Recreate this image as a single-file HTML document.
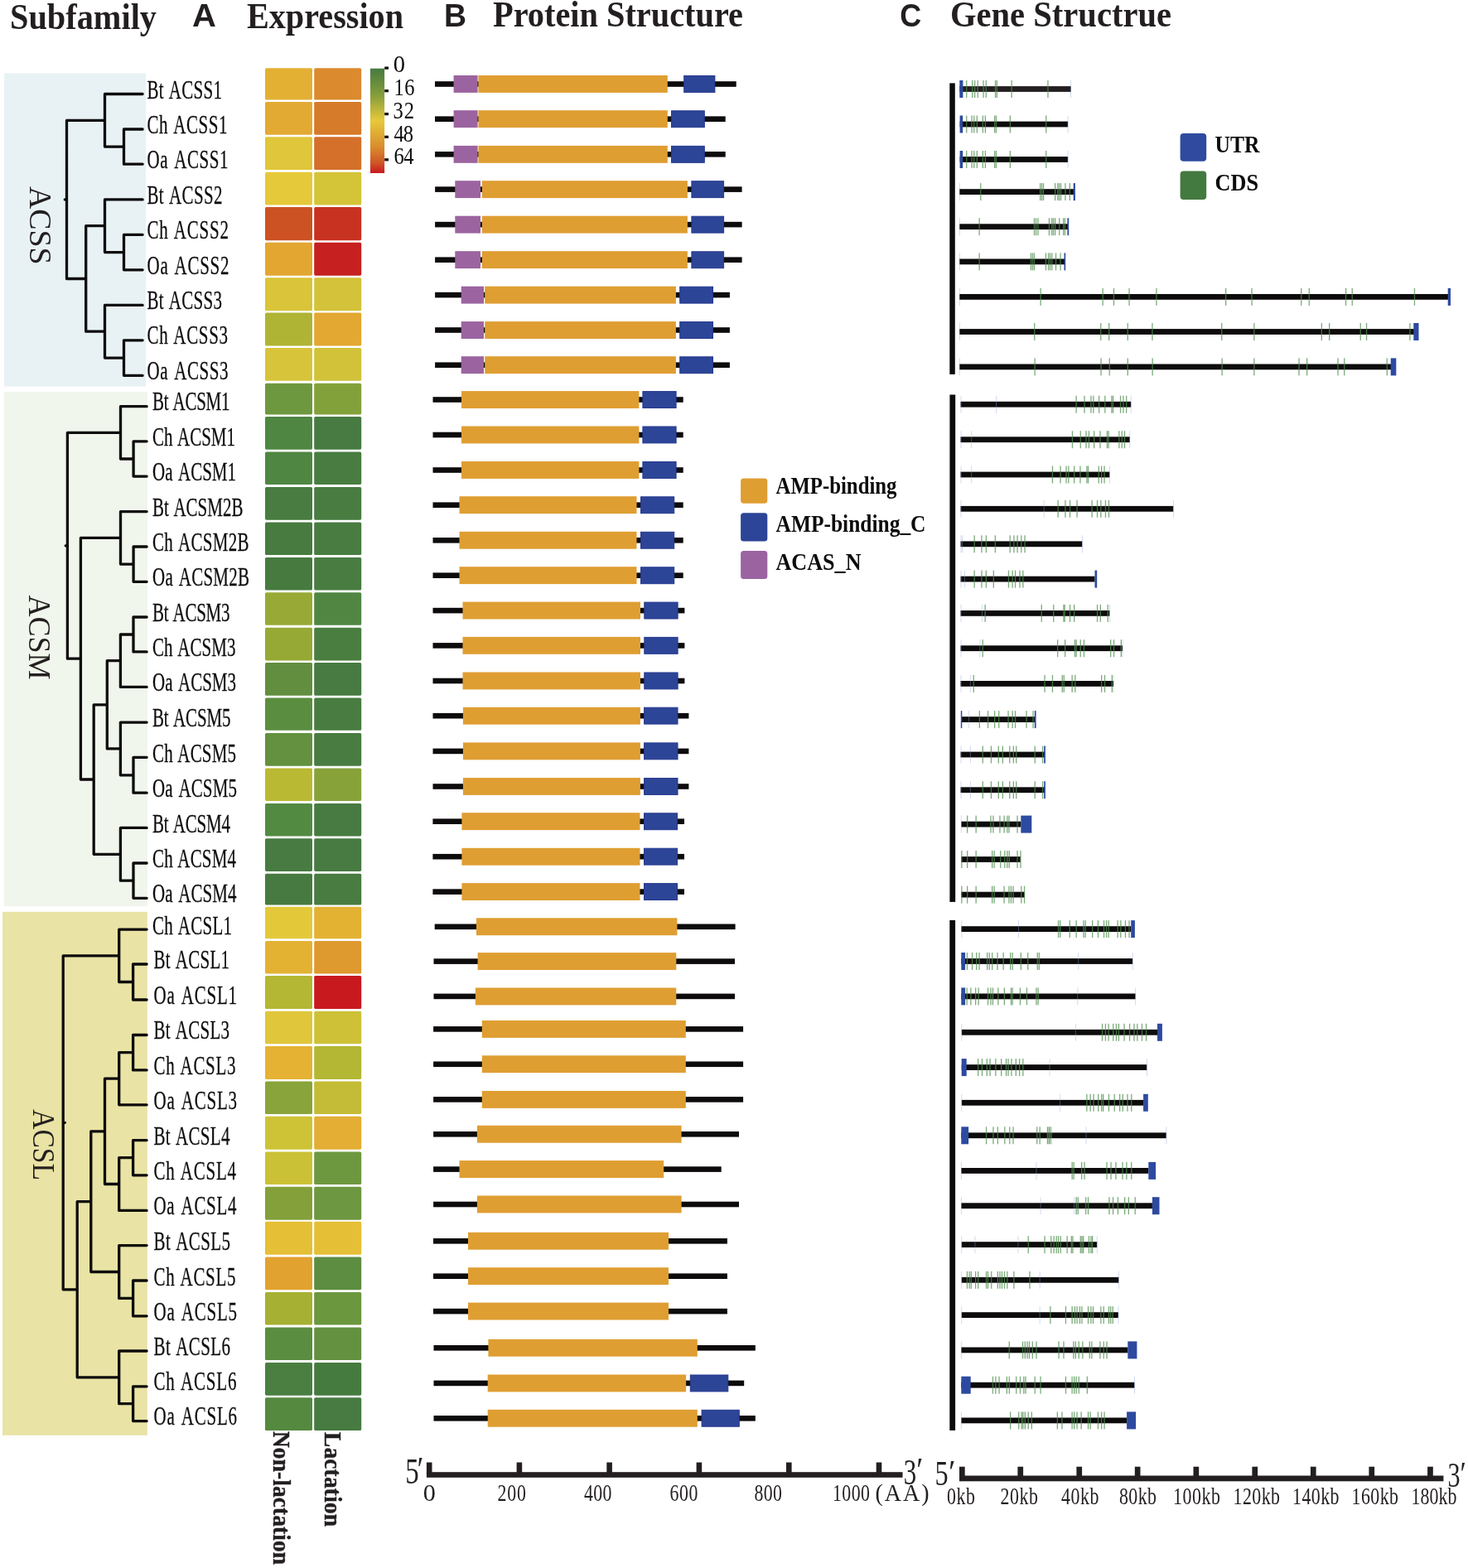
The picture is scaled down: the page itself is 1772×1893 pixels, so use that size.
<!DOCTYPE html>
<html><head><meta charset="utf-8"><title>ACS family: expression, protein and gene structure</title>
<style>html,body{margin:0;padding:0;background:#fff;overflow:hidden;}svg{display:block;}</style>
</head><body>
<svg width="1772" height="1893" viewBox="0 0 1772 1893">
<rect x="0" y="0" width="1772" height="1893" fill="#ffffff"/>
<rect x="4.9" y="88.4" width="171.1" height="378.2" fill="#e8f2f5"/>
<rect x="4.8" y="473.0" width="173.1" height="621.2" fill="#f1f6ec"/>
<rect x="3.0" y="1100.8" width="174.8" height="632.0" fill="#e9e3a5"/>
<path d="M126.5 113.5H172.1M149.5 156.0H172.1M149.5 198.2H172.1M149.5 156.0V198.2M126.5 177.1H149.5M126.5 113.5V177.1M80.5 145.3H126.5M126.5 240.9H172.1M149.5 283.3H172.1M149.5 325.8H172.1M149.5 283.3V325.8M126.5 304.6H149.5M126.5 240.9V304.6M103.7 272.7H126.5M126.5 368.4H172.1M149.5 410.8H172.1M149.5 453.3H172.1M149.5 410.8V453.3M126.5 432.1H149.5M126.5 368.4V432.1M103.7 400.2H126.5M103.7 272.7V400.2M80.5 336.5H103.7M80.5 145.3V336.5M78.3 240.9H80.5M145.5 490.7H177.1M161.1 532.8H177.1M161.1 575.1H177.1M161.1 532.8V575.1M145.5 554.0H161.1M145.5 490.7V554.0M81.4 522.3H145.5M145.5 617.6H177.1M161.1 660.0H177.1M161.1 702.3H177.1M161.1 660.0V702.3M145.5 681.1H161.1M145.5 617.6V681.1M97.4 649.4H145.5M161.0 745.0H177.1M161.0 786.9H177.1M161.0 745.0V786.9M145.4 766.0H161.0M145.4 829.4H177.1M145.4 766.0V829.4M129.3 797.7H145.4M145.4 872.1H177.1M161.0 914.3H177.1M161.0 957.2H177.1M161.0 914.3V957.2M145.4 935.8H161.0M145.4 872.1V935.8M129.3 903.9H145.4M129.3 797.7V903.9M113.2 850.8H129.3M145.4 999.4H177.1M161.0 1042.0H177.1M161.0 1084.3H177.1M161.0 1042.0V1084.3M145.4 1063.2H161.0M145.4 999.4V1063.2M113.2 1031.3H145.4M113.2 850.8V1031.3M97.4 941.0H113.2M97.4 649.4V941.0M81.4 795.2H97.4M81.4 522.3V795.2M79.2 658.8H81.4M143.7 1122.1H177.1M160.6 1164.0H177.1M160.6 1207.0H177.1M160.6 1164.0V1207.0M143.7 1185.5H160.6M143.7 1122.1V1185.5M76.2 1153.8H143.7M160.6 1249.5H177.1M160.6 1291.9H177.1M160.6 1249.5V1291.9M143.7 1270.7H160.6M143.7 1333.8H177.1M143.7 1270.7V1333.8M126.5 1302.2H143.7M160.6 1376.6H177.1M160.6 1418.8H177.1M160.6 1376.6V1418.8M143.7 1397.7H160.6M143.7 1461.4H177.1M143.7 1397.7V1461.4M126.5 1429.5H143.7M126.5 1302.2V1429.5M109.8 1365.9H126.5M143.7 1503.6H177.1M160.6 1546.0H177.1M160.6 1588.8H177.1M160.6 1546.0V1588.8M143.7 1567.4H160.6M143.7 1503.6V1567.4M109.8 1535.5H143.7M109.8 1365.9V1535.5M93.2 1450.7H109.8M143.7 1631.0H177.1M160.6 1673.8H177.1M160.6 1715.6H177.1M160.6 1673.8V1715.6M143.7 1694.7H160.6M143.7 1631.0V1694.7M93.2 1662.8H143.7M93.2 1450.7V1662.8M76.2 1556.8H93.2M76.2 1153.8V1556.8M76.2 1355.3H78.4" fill="none" stroke="#0d0b0b" stroke-width="3.3" stroke-linecap="round" stroke-linejoin="round"/>
<rect x="320.0" y="82.3" width="57.0" height="38.2" rx="1.6" fill="#e3b033"/>
<rect x="379.2" y="82.3" width="57.0" height="38.2" rx="1.6" fill="#db8a2e"/>
<rect x="320.0" y="123.0" width="57.0" height="39.8" rx="1.6" fill="#e3aa33"/>
<rect x="379.2" y="123.0" width="57.0" height="39.8" rx="1.6" fill="#d67b29"/>
<rect x="320.0" y="165.2" width="57.0" height="39.8" rx="1.6" fill="#dfc63a"/>
<rect x="379.2" y="165.2" width="57.0" height="39.8" rx="1.6" fill="#d4702a"/>
<rect x="320.0" y="207.7" width="57.0" height="39.8" rx="1.6" fill="#e6c93a"/>
<rect x="379.2" y="207.7" width="57.0" height="39.8" rx="1.6" fill="#d4c437"/>
<rect x="320.0" y="250.1" width="57.0" height="40.1" rx="1.6" fill="#cc5224"/>
<rect x="379.2" y="250.1" width="57.0" height="40.1" rx="1.6" fill="#c83220"/>
<rect x="320.0" y="292.8" width="57.0" height="39.9" rx="1.6" fill="#e2a631"/>
<rect x="379.2" y="292.8" width="57.0" height="39.9" rx="1.6" fill="#c62020"/>
<rect x="320.0" y="335.2" width="57.0" height="40.1" rx="1.6" fill="#d9c43a"/>
<rect x="379.2" y="335.2" width="57.0" height="40.1" rx="1.6" fill="#d4c23a"/>
<rect x="320.0" y="377.6" width="57.0" height="39.9" rx="1.6" fill="#b0b435"/>
<rect x="379.2" y="377.6" width="57.0" height="39.9" rx="1.6" fill="#e3a832"/>
<rect x="320.0" y="420.1" width="57.0" height="39.7" rx="1.6" fill="#d8c43a"/>
<rect x="379.2" y="420.1" width="57.0" height="39.7" rx="1.6" fill="#d1c23a"/>
<rect x="320.0" y="462.7" width="57.0" height="37.7" rx="1.6" fill="#6e983f"/>
<rect x="379.2" y="462.7" width="57.0" height="37.7" rx="1.6" fill="#83a13a"/>
<rect x="320.0" y="503.0" width="57.0" height="39.7" rx="1.6" fill="#4f8642"/>
<rect x="379.2" y="503.0" width="57.0" height="39.7" rx="1.6" fill="#477b41"/>
<rect x="320.0" y="545.4" width="57.0" height="39.5" rx="1.6" fill="#4f8642"/>
<rect x="379.2" y="545.4" width="57.0" height="39.5" rx="1.6" fill="#487c41"/>
<rect x="320.0" y="588.0" width="57.0" height="39.7" rx="1.6" fill="#487c40"/>
<rect x="379.2" y="588.0" width="57.0" height="39.7" rx="1.6" fill="#487c41"/>
<rect x="320.0" y="630.4" width="57.0" height="39.6" rx="1.6" fill="#477b3f"/>
<rect x="379.2" y="630.4" width="57.0" height="39.6" rx="1.6" fill="#487c41"/>
<rect x="320.0" y="673.0" width="57.0" height="39.5" rx="1.6" fill="#467a3e"/>
<rect x="379.2" y="673.0" width="57.0" height="39.5" rx="1.6" fill="#487c41"/>
<rect x="320.0" y="715.2" width="57.0" height="39.6" rx="1.6" fill="#98aa35"/>
<rect x="379.2" y="715.2" width="57.0" height="39.6" rx="1.6" fill="#508642"/>
<rect x="320.0" y="757.8" width="57.0" height="39.6" rx="1.6" fill="#97a935"/>
<rect x="379.2" y="757.8" width="57.0" height="39.6" rx="1.6" fill="#4a7e41"/>
<rect x="320.0" y="800.0" width="57.0" height="39.8" rx="1.6" fill="#628e3f"/>
<rect x="379.2" y="800.0" width="57.0" height="39.8" rx="1.6" fill="#477b41"/>
<rect x="320.0" y="842.6" width="57.0" height="39.2" rx="1.6" fill="#5b8d40"/>
<rect x="379.2" y="842.6" width="57.0" height="39.2" rx="1.6" fill="#487c41"/>
<rect x="320.0" y="884.9" width="57.0" height="39.8" rx="1.6" fill="#63913f"/>
<rect x="379.2" y="884.9" width="57.0" height="39.8" rx="1.6" fill="#487c41"/>
<rect x="320.0" y="927.5" width="57.0" height="39.4" rx="1.6" fill="#bab933"/>
<rect x="379.2" y="927.5" width="57.0" height="39.4" rx="1.6" fill="#88a23a"/>
<rect x="320.0" y="970.0" width="57.0" height="39.4" rx="1.6" fill="#538a42"/>
<rect x="379.2" y="970.0" width="57.0" height="39.4" rx="1.6" fill="#477b41"/>
<rect x="320.0" y="1012.2" width="57.0" height="39.7" rx="1.6" fill="#477b41"/>
<rect x="379.2" y="1012.2" width="57.0" height="39.7" rx="1.6" fill="#477b41"/>
<rect x="320.0" y="1054.7" width="57.0" height="37.9" rx="1.6" fill="#467a40"/>
<rect x="379.2" y="1054.7" width="57.0" height="37.9" rx="1.6" fill="#487c41"/>
<rect x="320.0" y="1094.8" width="57.0" height="38.5" rx="1.6" fill="#e3c93a"/>
<rect x="379.2" y="1094.8" width="57.0" height="38.5" rx="1.6" fill="#e3b233"/>
<rect x="320.0" y="1136.1" width="57.0" height="39.4" rx="1.6" fill="#e3b233"/>
<rect x="379.2" y="1136.1" width="57.0" height="39.4" rx="1.6" fill="#de9a2f"/>
<rect x="320.0" y="1178.0" width="57.0" height="40.0" rx="1.6" fill="#b3b733"/>
<rect x="379.2" y="1178.0" width="57.0" height="40.0" rx="1.6" fill="#c8191f"/>
<rect x="320.0" y="1220.7" width="57.0" height="39.6" rx="1.6" fill="#e0c63a"/>
<rect x="379.2" y="1220.7" width="57.0" height="39.6" rx="1.6" fill="#cec138"/>
<rect x="320.0" y="1263.0" width="57.0" height="39.9" rx="1.6" fill="#e5b233"/>
<rect x="379.2" y="1263.0" width="57.0" height="39.9" rx="1.6" fill="#b3b733"/>
<rect x="320.0" y="1305.6" width="57.0" height="39.5" rx="1.6" fill="#88a43a"/>
<rect x="379.2" y="1305.6" width="57.0" height="39.5" rx="1.6" fill="#c4bc36"/>
<rect x="320.0" y="1347.8" width="57.0" height="39.9" rx="1.6" fill="#cec336"/>
<rect x="379.2" y="1347.8" width="57.0" height="39.9" rx="1.6" fill="#e3ae33"/>
<rect x="320.0" y="1390.4" width="57.0" height="39.7" rx="1.6" fill="#cbc136"/>
<rect x="379.2" y="1390.4" width="57.0" height="39.7" rx="1.6" fill="#6e9840"/>
<rect x="320.0" y="1432.8" width="57.0" height="39.9" rx="1.6" fill="#83a03b"/>
<rect x="379.2" y="1432.8" width="57.0" height="39.9" rx="1.6" fill="#6d9740"/>
<rect x="320.0" y="1474.8" width="57.0" height="40.0" rx="1.6" fill="#e5bf35"/>
<rect x="379.2" y="1474.8" width="57.0" height="40.0" rx="1.6" fill="#e5bf35"/>
<rect x="320.0" y="1517.4" width="57.0" height="39.8" rx="1.6" fill="#e2a22f"/>
<rect x="379.2" y="1517.4" width="57.0" height="39.8" rx="1.6" fill="#5c8d40"/>
<rect x="320.0" y="1559.9" width="57.0" height="39.7" rx="1.6" fill="#a6b033"/>
<rect x="379.2" y="1559.9" width="57.0" height="39.7" rx="1.6" fill="#6b973f"/>
<rect x="320.0" y="1602.4" width="57.0" height="39.6" rx="1.6" fill="#5b8d40"/>
<rect x="379.2" y="1602.4" width="57.0" height="39.6" rx="1.6" fill="#639140"/>
<rect x="320.0" y="1645.0" width="57.0" height="39.7" rx="1.6" fill="#4a7f41"/>
<rect x="379.2" y="1645.0" width="57.0" height="39.7" rx="1.6" fill="#467b40"/>
<rect x="320.0" y="1687.2" width="57.0" height="39.9" rx="1.6" fill="#55893f"/>
<rect x="379.2" y="1687.2" width="57.0" height="39.9" rx="1.6" fill="#477b41"/>
<defs><linearGradient id="cg" x1="0" y1="0" x2="0" y2="1"><stop offset="0" stop-color="#457b40"/><stop offset="0.25" stop-color="#849c3c"/><stop offset="0.5" stop-color="#e6c93a"/><stop offset="0.75" stop-color="#d98c2e"/><stop offset="0.9" stop-color="#d05626"/><stop offset="1" stop-color="#c8191f"/></linearGradient></defs>
<rect x="446.9" y="82.7" width="17.2" height="126.3" fill="url(#cg)"/>
<rect x="464.2" y="80.5" width="4.8" height="3.2" fill="#0d0b0b"/>
<rect x="464.2" y="108.1" width="4.8" height="3.2" fill="#0d0b0b"/>
<rect x="464.2" y="136.0" width="4.8" height="3.2" fill="#0d0b0b"/>
<rect x="464.2" y="163.7" width="4.8" height="3.2" fill="#0d0b0b"/>
<rect x="464.2" y="191.2" width="4.8" height="3.2" fill="#0d0b0b"/>
<rect x="525.0" y="98.2" width="363.7" height="6.6" fill="#0d0b0b"/>
<rect x="547.6" y="91.0" width="29.0" height="20.9" fill="#9b64a0"/>
<rect x="577.4" y="91.0" width="228.4" height="20.9" fill="#df9e32"/>
<rect x="825.7" y="91.5" width="37.2" height="19.9" fill="#2d4596" stroke="#25388f" stroke-width="1"/>
<rect x="525.0" y="140.4" width="350.7" height="6.6" fill="#0d0b0b"/>
<rect x="547.6" y="133.2" width="29.0" height="20.9" fill="#9b64a0"/>
<rect x="577.4" y="133.2" width="228.4" height="20.9" fill="#df9e32"/>
<rect x="810.5" y="133.8" width="39.8" height="19.9" fill="#2d4596" stroke="#25388f" stroke-width="1"/>
<rect x="525.0" y="183.0" width="350.7" height="6.6" fill="#0d0b0b"/>
<rect x="547.6" y="175.9" width="29.0" height="20.9" fill="#9b64a0"/>
<rect x="577.4" y="175.9" width="228.4" height="20.9" fill="#df9e32"/>
<rect x="810.5" y="176.4" width="39.8" height="19.9" fill="#2d4596" stroke="#25388f" stroke-width="1"/>
<rect x="525.1" y="225.3" width="370.5" height="6.6" fill="#0d0b0b"/>
<rect x="549.3" y="218.2" width="30.7" height="20.9" fill="#9b64a0"/>
<rect x="581.9" y="218.2" width="248.0" height="20.9" fill="#df9e32"/>
<rect x="834.9" y="218.7" width="38.7" height="19.9" fill="#2d4596" stroke="#25388f" stroke-width="1"/>
<rect x="525.1" y="267.8" width="370.5" height="6.6" fill="#0d0b0b"/>
<rect x="549.3" y="260.7" width="30.7" height="20.9" fill="#9b64a0"/>
<rect x="581.9" y="260.7" width="248.0" height="20.9" fill="#df9e32"/>
<rect x="834.9" y="261.2" width="38.7" height="19.9" fill="#2d4596" stroke="#25388f" stroke-width="1"/>
<rect x="525.1" y="310.4" width="370.5" height="6.6" fill="#0d0b0b"/>
<rect x="549.3" y="303.2" width="30.7" height="20.9" fill="#9b64a0"/>
<rect x="581.9" y="303.2" width="248.0" height="20.9" fill="#df9e32"/>
<rect x="834.9" y="303.8" width="38.7" height="19.9" fill="#2d4596" stroke="#25388f" stroke-width="1"/>
<rect x="525.1" y="352.8" width="355.8" height="6.6" fill="#0d0b0b"/>
<rect x="556.7" y="345.7" width="27.3" height="20.9" fill="#9b64a0"/>
<rect x="585.2" y="345.7" width="230.7" height="20.9" fill="#df9e32"/>
<rect x="820.7" y="346.2" width="39.8" height="19.9" fill="#2d4596" stroke="#25388f" stroke-width="1"/>
<rect x="525.1" y="395.2" width="355.8" height="6.6" fill="#0d0b0b"/>
<rect x="556.7" y="388.1" width="27.3" height="20.9" fill="#9b64a0"/>
<rect x="585.2" y="388.1" width="230.7" height="20.9" fill="#df9e32"/>
<rect x="820.7" y="388.6" width="39.8" height="19.9" fill="#2d4596" stroke="#25388f" stroke-width="1"/>
<rect x="525.1" y="437.4" width="355.8" height="6.6" fill="#0d0b0b"/>
<rect x="556.7" y="430.2" width="27.3" height="20.9" fill="#9b64a0"/>
<rect x="585.2" y="430.2" width="230.7" height="20.9" fill="#df9e32"/>
<rect x="820.7" y="430.8" width="39.8" height="19.9" fill="#2d4596" stroke="#25388f" stroke-width="1"/>
<rect x="522.5" y="479.2" width="302.2" height="6.6" fill="#0d0b0b"/>
<rect x="557.0" y="472.1" width="214.4" height="20.9" fill="#df9e32"/>
<rect x="775.9" y="472.6" width="40.2" height="19.9" fill="#2d4596" stroke="#25388f" stroke-width="1"/>
<rect x="522.5" y="521.7" width="302.2" height="6.6" fill="#0d0b0b"/>
<rect x="557.0" y="514.5" width="214.4" height="20.9" fill="#df9e32"/>
<rect x="775.9" y="515.0" width="40.2" height="19.9" fill="#2d4596" stroke="#25388f" stroke-width="1"/>
<rect x="522.5" y="564.2" width="302.2" height="6.6" fill="#0d0b0b"/>
<rect x="557.0" y="557.0" width="214.4" height="20.9" fill="#df9e32"/>
<rect x="775.9" y="557.5" width="40.2" height="19.9" fill="#2d4596" stroke="#25388f" stroke-width="1"/>
<rect x="522.5" y="606.4" width="302.2" height="6.6" fill="#0d0b0b"/>
<rect x="554.5" y="599.2" width="214.0" height="20.9" fill="#df9e32"/>
<rect x="773.5" y="599.8" width="40.2" height="19.9" fill="#2d4596" stroke="#25388f" stroke-width="1"/>
<rect x="522.5" y="649.0" width="302.2" height="6.6" fill="#0d0b0b"/>
<rect x="554.5" y="641.8" width="214.0" height="20.9" fill="#df9e32"/>
<rect x="773.5" y="642.3" width="40.2" height="19.9" fill="#2d4596" stroke="#25388f" stroke-width="1"/>
<rect x="522.5" y="691.4" width="302.2" height="6.6" fill="#0d0b0b"/>
<rect x="554.5" y="684.2" width="214.0" height="20.9" fill="#df9e32"/>
<rect x="773.5" y="684.8" width="40.2" height="19.9" fill="#2d4596" stroke="#25388f" stroke-width="1"/>
<rect x="522.5" y="733.8" width="303.9" height="6.6" fill="#0d0b0b"/>
<rect x="558.5" y="726.6" width="214.5" height="20.9" fill="#df9e32"/>
<rect x="777.8" y="727.1" width="40.3" height="19.9" fill="#2d4596" stroke="#25388f" stroke-width="1"/>
<rect x="522.5" y="776.1" width="303.9" height="6.6" fill="#0d0b0b"/>
<rect x="558.5" y="768.9" width="214.5" height="20.9" fill="#df9e32"/>
<rect x="777.8" y="769.4" width="40.3" height="19.9" fill="#2d4596" stroke="#25388f" stroke-width="1"/>
<rect x="522.5" y="818.7" width="303.9" height="6.6" fill="#0d0b0b"/>
<rect x="558.5" y="811.5" width="214.5" height="20.9" fill="#df9e32"/>
<rect x="777.8" y="812.0" width="40.3" height="19.9" fill="#2d4596" stroke="#25388f" stroke-width="1"/>
<rect x="522.5" y="860.9" width="308.9" height="6.6" fill="#0d0b0b"/>
<rect x="558.9" y="853.8" width="214.0" height="20.9" fill="#df9e32"/>
<rect x="777.6" y="854.2" width="40.4" height="19.9" fill="#2d4596" stroke="#25388f" stroke-width="1"/>
<rect x="522.5" y="903.6" width="308.9" height="6.6" fill="#0d0b0b"/>
<rect x="558.9" y="896.4" width="214.0" height="20.9" fill="#df9e32"/>
<rect x="777.6" y="896.9" width="40.4" height="19.9" fill="#2d4596" stroke="#25388f" stroke-width="1"/>
<rect x="522.5" y="946.2" width="308.9" height="6.6" fill="#0d0b0b"/>
<rect x="558.9" y="939.0" width="214.0" height="20.9" fill="#df9e32"/>
<rect x="777.6" y="939.5" width="40.4" height="19.9" fill="#2d4596" stroke="#25388f" stroke-width="1"/>
<rect x="522.4" y="988.4" width="303.6" height="6.6" fill="#0d0b0b"/>
<rect x="557.4" y="981.2" width="215.1" height="20.9" fill="#df9e32"/>
<rect x="777.5" y="981.8" width="40.1" height="19.9" fill="#2d4596" stroke="#25388f" stroke-width="1"/>
<rect x="522.4" y="1030.9" width="303.6" height="6.6" fill="#0d0b0b"/>
<rect x="557.4" y="1023.8" width="215.1" height="20.9" fill="#df9e32"/>
<rect x="777.5" y="1024.2" width="40.1" height="19.9" fill="#2d4596" stroke="#25388f" stroke-width="1"/>
<rect x="522.4" y="1073.3" width="303.6" height="6.6" fill="#0d0b0b"/>
<rect x="557.4" y="1066.1" width="215.1" height="20.9" fill="#df9e32"/>
<rect x="777.5" y="1066.6" width="40.1" height="19.9" fill="#2d4596" stroke="#25388f" stroke-width="1"/>
<rect x="524.7" y="1115.5" width="362.9" height="6.6" fill="#0d0b0b"/>
<rect x="575.0" y="1108.3" width="242.4" height="20.9" fill="#df9e32"/>
<rect x="523.5" y="1157.3" width="363.5" height="6.6" fill="#0d0b0b"/>
<rect x="576.6" y="1150.1" width="239.7" height="20.9" fill="#df9e32"/>
<rect x="523.5" y="1199.6" width="363.5" height="6.6" fill="#0d0b0b"/>
<rect x="573.9" y="1192.5" width="242.4" height="20.9" fill="#df9e32"/>
<rect x="523.1" y="1239.1" width="374.0" height="6.6" fill="#0d0b0b"/>
<rect x="581.8" y="1232.0" width="246.0" height="20.9" fill="#df9e32"/>
<rect x="523.1" y="1281.5" width="374.0" height="6.6" fill="#0d0b0b"/>
<rect x="581.8" y="1274.3" width="246.0" height="20.9" fill="#df9e32"/>
<rect x="523.1" y="1324.1" width="374.0" height="6.6" fill="#0d0b0b"/>
<rect x="581.8" y="1317.0" width="246.0" height="20.9" fill="#df9e32"/>
<rect x="523.1" y="1366.0" width="368.9" height="6.6" fill="#0d0b0b"/>
<rect x="575.9" y="1358.8" width="246.7" height="20.9" fill="#df9e32"/>
<rect x="523.1" y="1408.3" width="347.6" height="6.6" fill="#0d0b0b"/>
<rect x="554.5" y="1401.1" width="246.7" height="20.9" fill="#df9e32"/>
<rect x="523.1" y="1450.7" width="368.9" height="6.6" fill="#0d0b0b"/>
<rect x="575.9" y="1443.5" width="246.7" height="20.9" fill="#df9e32"/>
<rect x="523.0" y="1495.0" width="354.9" height="6.6" fill="#0d0b0b"/>
<rect x="565.0" y="1487.8" width="242.0" height="20.9" fill="#df9e32"/>
<rect x="523.0" y="1537.4" width="354.9" height="6.6" fill="#0d0b0b"/>
<rect x="565.0" y="1530.2" width="242.0" height="20.9" fill="#df9e32"/>
<rect x="523.0" y="1579.8" width="354.9" height="6.6" fill="#0d0b0b"/>
<rect x="565.0" y="1572.6" width="242.0" height="20.9" fill="#df9e32"/>
<rect x="523.5" y="1624.0" width="388.3" height="6.6" fill="#0d0b0b"/>
<rect x="589.4" y="1616.8" width="252.4" height="20.9" fill="#df9e32"/>
<rect x="523.5" y="1666.6" width="374.7" height="6.6" fill="#0d0b0b"/>
<rect x="588.7" y="1659.5" width="239.4" height="20.9" fill="#df9e32"/>
<rect x="833.3" y="1660.0" width="45.5" height="19.9" fill="#2d4596" stroke="#25388f" stroke-width="1"/>
<rect x="523.5" y="1709.0" width="388.3" height="6.6" fill="#0d0b0b"/>
<rect x="588.7" y="1701.8" width="253.1" height="20.9" fill="#df9e32"/>
<rect x="847.1" y="1702.3" width="45.2" height="19.9" fill="#2d4596" stroke="#25388f" stroke-width="1"/>
<rect x="894.1" y="577.6" width="32.2" height="30.1" rx="3.5" fill="#df9e32"/>
<rect x="894.1" y="619.3" width="32.2" height="34.1" rx="3.5" fill="#2d4596"/>
<rect x="894.1" y="665.1" width="32.2" height="33.9" rx="3.5" fill="#9b64a0"/>
<rect x="514.9" y="1777.2" width="574.6" height="6.6" fill="#231f20"/>
<rect x="514.9" y="1765.5" width="6.6" height="14" fill="#231f20"/>
<rect x="623.6" y="1765.5" width="6.6" height="14" fill="#231f20"/>
<rect x="732.3" y="1765.5" width="6.6" height="14" fill="#231f20"/>
<rect x="840.6" y="1765.5" width="6.6" height="14" fill="#231f20"/>
<rect x="949.0" y="1765.5" width="6.6" height="14" fill="#231f20"/>
<rect x="1057.7" y="1765.5" width="6.6" height="14" fill="#231f20"/>
<rect x="1146.3" y="100.4" width="6.5" height="351.5" fill="#0d0b0b"/>
<rect x="1146.4" y="476.5" width="6.8" height="612.4" fill="#0d0b0b"/>
<rect x="1146.3" y="1110.9" width="6.8" height="616.0" fill="#0d0b0b"/>
<rect x="1158.3" y="104.1" width="134.5" height="6.8" fill="#231f20"/>
<rect x="1166.1" y="97.0" width="1.3" height="21.0" fill="#4f8f4f" opacity="0.75"/>
<rect x="1173.1" y="97.0" width="1.3" height="21.0" fill="#4f8f4f" opacity="0.75"/>
<rect x="1176.0" y="97.0" width="1.3" height="21.0" fill="#4f8f4f" opacity="0.75"/>
<rect x="1179.6" y="97.0" width="1.3" height="21.0" fill="#4f8f4f" opacity="0.75"/>
<rect x="1186.4" y="97.0" width="1.3" height="21.0" fill="#4f8f4f" opacity="0.75"/>
<rect x="1189.6" y="97.0" width="1.3" height="21.0" fill="#4f8f4f" opacity="0.75"/>
<rect x="1200.9" y="97.0" width="1.3" height="21.0" fill="#4f8f4f" opacity="0.75"/>
<rect x="1202.7" y="97.0" width="1.3" height="21.0" fill="#4f8f4f" opacity="0.75"/>
<rect x="1220.5" y="97.0" width="1.3" height="21.0" fill="#4f8f4f" opacity="0.75"/>
<rect x="1264.3" y="97.0" width="1.3" height="21.0" fill="#4f8f4f" opacity="0.75"/>
<rect x="1292.1" y="97.0" width="0.9" height="21.0" fill="#8fa3d6" opacity="0.45"/>
<rect x="1158.3" y="97.0" width="4.1" height="21.0" fill="#2d4aa0"/>
<rect x="1158.6" y="146.6" width="130.5" height="6.8" fill="#0d0b0b"/>
<rect x="1166.1" y="139.5" width="1.3" height="21.0" fill="#4f8f4f" opacity="0.75"/>
<rect x="1172.4" y="139.5" width="1.3" height="21.0" fill="#4f8f4f" opacity="0.75"/>
<rect x="1175.1" y="139.5" width="1.3" height="21.0" fill="#4f8f4f" opacity="0.75"/>
<rect x="1178.7" y="139.5" width="1.3" height="21.0" fill="#4f8f4f" opacity="0.75"/>
<rect x="1185.7" y="139.5" width="1.3" height="21.0" fill="#4f8f4f" opacity="0.75"/>
<rect x="1188.7" y="139.5" width="1.3" height="21.0" fill="#4f8f4f" opacity="0.75"/>
<rect x="1200.0" y="139.5" width="1.3" height="21.0" fill="#4f8f4f" opacity="0.75"/>
<rect x="1201.8" y="139.5" width="1.3" height="21.0" fill="#4f8f4f" opacity="0.75"/>
<rect x="1218.7" y="139.5" width="1.3" height="21.0" fill="#4f8f4f" opacity="0.75"/>
<rect x="1262.1" y="139.5" width="1.3" height="21.0" fill="#4f8f4f" opacity="0.75"/>
<rect x="1288.6" y="139.5" width="0.9" height="21.0" fill="#8fa3d6" opacity="0.45"/>
<rect x="1158.6" y="139.5" width="3.6" height="21.0" fill="#2d4aa0"/>
<rect x="1158.6" y="189.1" width="130.5" height="6.8" fill="#0d0b0b"/>
<rect x="1166.1" y="182.0" width="1.3" height="21.0" fill="#4f8f4f" opacity="0.75"/>
<rect x="1172.4" y="182.0" width="1.3" height="21.0" fill="#4f8f4f" opacity="0.75"/>
<rect x="1175.1" y="182.0" width="1.3" height="21.0" fill="#4f8f4f" opacity="0.75"/>
<rect x="1178.7" y="182.0" width="1.3" height="21.0" fill="#4f8f4f" opacity="0.75"/>
<rect x="1185.7" y="182.0" width="1.3" height="21.0" fill="#4f8f4f" opacity="0.75"/>
<rect x="1188.7" y="182.0" width="1.3" height="21.0" fill="#4f8f4f" opacity="0.75"/>
<rect x="1200.0" y="182.0" width="1.3" height="21.0" fill="#4f8f4f" opacity="0.75"/>
<rect x="1201.8" y="182.0" width="1.3" height="21.0" fill="#4f8f4f" opacity="0.75"/>
<rect x="1218.7" y="182.0" width="1.3" height="21.0" fill="#4f8f4f" opacity="0.75"/>
<rect x="1262.1" y="182.0" width="1.3" height="21.0" fill="#4f8f4f" opacity="0.75"/>
<rect x="1288.6" y="182.0" width="0.9" height="21.0" fill="#8fa3d6" opacity="0.45"/>
<rect x="1158.6" y="182.0" width="3.6" height="21.0" fill="#2d4aa0"/>
<rect x="1158.1" y="228.2" width="139.0" height="6.8" fill="#0d0b0b"/>
<rect x="1183.1" y="221.1" width="1.3" height="21.0" fill="#4f8f4f" opacity="0.75"/>
<rect x="1255.0" y="221.1" width="1.3" height="21.0" fill="#4f8f4f" opacity="0.75"/>
<rect x="1256.9" y="221.1" width="1.3" height="21.0" fill="#4f8f4f" opacity="0.75"/>
<rect x="1258.9" y="221.1" width="1.3" height="21.0" fill="#4f8f4f" opacity="0.75"/>
<rect x="1273.0" y="221.1" width="1.3" height="21.0" fill="#4f8f4f" opacity="0.75"/>
<rect x="1276.1" y="221.1" width="1.3" height="21.0" fill="#4f8f4f" opacity="0.75"/>
<rect x="1277.9" y="221.1" width="1.3" height="21.0" fill="#4f8f4f" opacity="0.75"/>
<rect x="1279.9" y="221.1" width="1.3" height="21.0" fill="#4f8f4f" opacity="0.75"/>
<rect x="1285.3" y="221.1" width="1.3" height="21.0" fill="#4f8f4f" opacity="0.75"/>
<rect x="1290.7" y="221.1" width="1.3" height="21.0" fill="#4f8f4f" opacity="0.75"/>
<rect x="1157.9" y="221.1" width="0.9" height="21.0" fill="#8fa3d6" opacity="0.45"/>
<rect x="1295.7" y="221.1" width="2.2" height="21.0" fill="#2d4aa0"/>
<rect x="1158.1" y="270.3" width="131.8" height="6.8" fill="#0d0b0b"/>
<rect x="1181.5" y="263.2" width="1.3" height="21.0" fill="#4f8f4f" opacity="0.75"/>
<rect x="1247.8" y="263.2" width="1.3" height="21.0" fill="#4f8f4f" opacity="0.75"/>
<rect x="1249.9" y="263.2" width="1.3" height="21.0" fill="#4f8f4f" opacity="0.75"/>
<rect x="1252.3" y="263.2" width="1.3" height="21.0" fill="#4f8f4f" opacity="0.75"/>
<rect x="1265.8" y="263.2" width="1.3" height="21.0" fill="#4f8f4f" opacity="0.75"/>
<rect x="1269.1" y="263.2" width="1.3" height="21.0" fill="#4f8f4f" opacity="0.75"/>
<rect x="1270.9" y="263.2" width="1.3" height="21.0" fill="#4f8f4f" opacity="0.75"/>
<rect x="1273.0" y="263.2" width="1.3" height="21.0" fill="#4f8f4f" opacity="0.75"/>
<rect x="1278.1" y="263.2" width="1.3" height="21.0" fill="#4f8f4f" opacity="0.75"/>
<rect x="1283.0" y="263.2" width="1.3" height="21.0" fill="#4f8f4f" opacity="0.75"/>
<rect x="1284.8" y="263.2" width="1.3" height="21.0" fill="#4f8f4f" opacity="0.75"/>
<rect x="1157.9" y="263.2" width="0.9" height="21.0" fill="#8fa3d6" opacity="0.45"/>
<rect x="1288.4" y="263.2" width="1.8" height="21.0" fill="#2d4aa0"/>
<rect x="1158.1" y="312.5" width="127.8" height="6.8" fill="#0d0b0b"/>
<rect x="1181.5" y="305.4" width="1.3" height="21.0" fill="#4f8f4f" opacity="0.75"/>
<rect x="1243.8" y="305.4" width="1.3" height="21.0" fill="#4f8f4f" opacity="0.75"/>
<rect x="1245.8" y="305.4" width="1.3" height="21.0" fill="#4f8f4f" opacity="0.75"/>
<rect x="1247.8" y="305.4" width="1.3" height="21.0" fill="#4f8f4f" opacity="0.75"/>
<rect x="1261.8" y="305.4" width="1.3" height="21.0" fill="#4f8f4f" opacity="0.75"/>
<rect x="1264.9" y="305.4" width="1.3" height="21.0" fill="#4f8f4f" opacity="0.75"/>
<rect x="1266.9" y="305.4" width="1.3" height="21.0" fill="#4f8f4f" opacity="0.75"/>
<rect x="1269.1" y="305.4" width="1.3" height="21.0" fill="#4f8f4f" opacity="0.75"/>
<rect x="1273.9" y="305.4" width="1.3" height="21.0" fill="#4f8f4f" opacity="0.75"/>
<rect x="1279.4" y="305.4" width="1.3" height="21.0" fill="#4f8f4f" opacity="0.75"/>
<rect x="1157.9" y="305.4" width="0.9" height="21.0" fill="#8fa3d6" opacity="0.45"/>
<rect x="1284.5" y="305.4" width="1.7" height="21.0" fill="#2d4aa0"/>
<rect x="1158.1" y="355.0" width="590.3" height="6.8" fill="#0d0b0b"/>
<rect x="1255.5" y="347.9" width="1.3" height="21.0" fill="#4f8f4f" opacity="0.75"/>
<rect x="1330.5" y="347.9" width="1.3" height="21.0" fill="#4f8f4f" opacity="0.75"/>
<rect x="1343.8" y="347.9" width="1.3" height="21.0" fill="#4f8f4f" opacity="0.75"/>
<rect x="1362.4" y="347.9" width="1.3" height="21.0" fill="#4f8f4f" opacity="0.75"/>
<rect x="1395.3" y="347.9" width="1.3" height="21.0" fill="#4f8f4f" opacity="0.75"/>
<rect x="1479.0" y="347.9" width="1.3" height="21.0" fill="#4f8f4f" opacity="0.75"/>
<rect x="1510.4" y="347.9" width="1.3" height="21.0" fill="#4f8f4f" opacity="0.75"/>
<rect x="1570.1" y="347.9" width="1.3" height="21.0" fill="#4f8f4f" opacity="0.75"/>
<rect x="1579.6" y="347.9" width="1.3" height="21.0" fill="#4f8f4f" opacity="0.75"/>
<rect x="1623.9" y="347.9" width="1.3" height="21.0" fill="#4f8f4f" opacity="0.75"/>
<rect x="1631.6" y="347.9" width="1.3" height="21.0" fill="#4f8f4f" opacity="0.75"/>
<rect x="1706.8" y="347.9" width="1.3" height="21.0" fill="#4f8f4f" opacity="0.75"/>
<rect x="1157.9" y="347.9" width="0.9" height="21.0" fill="#8fa3d6" opacity="0.45"/>
<rect x="1747.7" y="347.9" width="3.3" height="21.0" fill="#2d4aa0"/>
<rect x="1158.1" y="397.1" width="548.9" height="6.8" fill="#0d0b0b"/>
<rect x="1248.1" y="390.0" width="1.3" height="21.0" fill="#4f8f4f" opacity="0.75"/>
<rect x="1328.1" y="390.0" width="1.3" height="21.0" fill="#4f8f4f" opacity="0.75"/>
<rect x="1338.0" y="390.0" width="1.3" height="21.0" fill="#4f8f4f" opacity="0.75"/>
<rect x="1360.6" y="390.0" width="1.3" height="21.0" fill="#4f8f4f" opacity="0.75"/>
<rect x="1390.3" y="390.0" width="1.3" height="21.0" fill="#4f8f4f" opacity="0.75"/>
<rect x="1474.1" y="390.0" width="1.3" height="21.0" fill="#4f8f4f" opacity="0.75"/>
<rect x="1513.2" y="390.0" width="1.3" height="21.0" fill="#4f8f4f" opacity="0.75"/>
<rect x="1594.7" y="390.0" width="1.3" height="21.0" fill="#4f8f4f" opacity="0.75"/>
<rect x="1604.0" y="390.0" width="1.3" height="21.0" fill="#4f8f4f" opacity="0.75"/>
<rect x="1641.6" y="390.0" width="1.3" height="21.0" fill="#4f8f4f" opacity="0.75"/>
<rect x="1648.9" y="390.0" width="1.3" height="21.0" fill="#4f8f4f" opacity="0.75"/>
<rect x="1701.3" y="390.0" width="1.3" height="21.0" fill="#4f8f4f" opacity="0.75"/>
<rect x="1157.9" y="390.0" width="0.9" height="21.0" fill="#8fa3d6" opacity="0.45"/>
<rect x="1706.3" y="390.0" width="6.2" height="21.0" fill="#2d4aa0"/>
<rect x="1158.1" y="439.5" width="521.0" height="6.8" fill="#0d0b0b"/>
<rect x="1248.5" y="432.4" width="1.3" height="21.0" fill="#4f8f4f" opacity="0.75"/>
<rect x="1328.4" y="432.4" width="1.3" height="21.0" fill="#4f8f4f" opacity="0.75"/>
<rect x="1338.6" y="432.4" width="1.3" height="21.0" fill="#4f8f4f" opacity="0.75"/>
<rect x="1360.6" y="432.4" width="1.3" height="21.0" fill="#4f8f4f" opacity="0.75"/>
<rect x="1390.5" y="432.4" width="1.3" height="21.0" fill="#4f8f4f" opacity="0.75"/>
<rect x="1474.5" y="432.4" width="1.3" height="21.0" fill="#4f8f4f" opacity="0.75"/>
<rect x="1513.2" y="432.4" width="1.3" height="21.0" fill="#4f8f4f" opacity="0.75"/>
<rect x="1567.4" y="432.4" width="1.3" height="21.0" fill="#4f8f4f" opacity="0.75"/>
<rect x="1577.0" y="432.4" width="1.3" height="21.0" fill="#4f8f4f" opacity="0.75"/>
<rect x="1614.4" y="432.4" width="1.3" height="21.0" fill="#4f8f4f" opacity="0.75"/>
<rect x="1622.1" y="432.4" width="1.3" height="21.0" fill="#4f8f4f" opacity="0.75"/>
<rect x="1673.6" y="432.4" width="1.3" height="21.0" fill="#4f8f4f" opacity="0.75"/>
<rect x="1157.9" y="432.4" width="0.9" height="21.0" fill="#8fa3d6" opacity="0.45"/>
<rect x="1678.7" y="432.4" width="6.6" height="21.0" fill="#2d4aa0"/>
<rect x="1159.5" y="484.8" width="205.7" height="6.8" fill="#0d0b0b"/>
<rect x="1298.5" y="477.7" width="1.3" height="21.0" fill="#4f8f4f" opacity="0.75"/>
<rect x="1308.4" y="477.7" width="1.3" height="21.0" fill="#4f8f4f" opacity="0.75"/>
<rect x="1316.3" y="477.7" width="1.3" height="21.0" fill="#4f8f4f" opacity="0.75"/>
<rect x="1319.2" y="477.7" width="1.3" height="21.0" fill="#4f8f4f" opacity="0.75"/>
<rect x="1326.0" y="477.7" width="1.3" height="21.0" fill="#4f8f4f" opacity="0.75"/>
<rect x="1333.2" y="477.7" width="1.3" height="21.0" fill="#4f8f4f" opacity="0.75"/>
<rect x="1341.2" y="477.7" width="1.3" height="21.0" fill="#4f8f4f" opacity="0.75"/>
<rect x="1342.9" y="477.7" width="1.3" height="21.0" fill="#4f8f4f" opacity="0.75"/>
<rect x="1351.9" y="477.7" width="1.3" height="21.0" fill="#4f8f4f" opacity="0.75"/>
<rect x="1355.3" y="477.7" width="1.3" height="21.0" fill="#4f8f4f" opacity="0.75"/>
<rect x="1359.0" y="477.7" width="1.3" height="21.0" fill="#4f8f4f" opacity="0.75"/>
<rect x="1159.6" y="477.7" width="0.9" height="21.0" fill="#8fa3d6" opacity="0.45"/>
<rect x="1364.8" y="477.7" width="0.9" height="21.0" fill="#8fa3d6" opacity="0.45"/>
<rect x="1202.2" y="477.7" width="0.9" height="21.0" fill="#8fa3d6" opacity="0.45"/>
<rect x="1159.5" y="527.3" width="204.3" height="6.8" fill="#0d0b0b"/>
<rect x="1293.8" y="520.2" width="1.3" height="21.0" fill="#4f8f4f" opacity="0.75"/>
<rect x="1303.6" y="520.2" width="1.3" height="21.0" fill="#4f8f4f" opacity="0.75"/>
<rect x="1310.4" y="520.2" width="1.3" height="21.0" fill="#4f8f4f" opacity="0.75"/>
<rect x="1313.8" y="520.2" width="1.3" height="21.0" fill="#4f8f4f" opacity="0.75"/>
<rect x="1320.0" y="520.2" width="1.3" height="21.0" fill="#4f8f4f" opacity="0.75"/>
<rect x="1327.3" y="520.2" width="1.3" height="21.0" fill="#4f8f4f" opacity="0.75"/>
<rect x="1335.8" y="520.2" width="1.3" height="21.0" fill="#4f8f4f" opacity="0.75"/>
<rect x="1337.5" y="520.2" width="1.3" height="21.0" fill="#4f8f4f" opacity="0.75"/>
<rect x="1350.2" y="520.2" width="1.3" height="21.0" fill="#4f8f4f" opacity="0.75"/>
<rect x="1353.6" y="520.2" width="1.3" height="21.0" fill="#4f8f4f" opacity="0.75"/>
<rect x="1356.9" y="520.2" width="1.3" height="21.0" fill="#4f8f4f" opacity="0.75"/>
<rect x="1159.6" y="520.2" width="0.9" height="21.0" fill="#8fa3d6" opacity="0.45"/>
<rect x="1363.4" y="520.2" width="0.9" height="21.0" fill="#8fa3d6" opacity="0.45"/>
<rect x="1172.3" y="520.2" width="0.9" height="21.0" fill="#8fa3d6" opacity="0.45"/>
<rect x="1159.5" y="569.6" width="179.9" height="6.8" fill="#0d0b0b"/>
<rect x="1269.8" y="562.5" width="1.3" height="21.0" fill="#4f8f4f" opacity="0.75"/>
<rect x="1279.4" y="562.5" width="1.3" height="21.0" fill="#4f8f4f" opacity="0.75"/>
<rect x="1286.4" y="562.5" width="1.3" height="21.0" fill="#4f8f4f" opacity="0.75"/>
<rect x="1289.2" y="562.5" width="1.3" height="21.0" fill="#4f8f4f" opacity="0.75"/>
<rect x="1296.0" y="562.5" width="1.3" height="21.0" fill="#4f8f4f" opacity="0.75"/>
<rect x="1303.3" y="562.5" width="1.3" height="21.0" fill="#4f8f4f" opacity="0.75"/>
<rect x="1311.2" y="562.5" width="1.3" height="21.0" fill="#4f8f4f" opacity="0.75"/>
<rect x="1312.9" y="562.5" width="1.3" height="21.0" fill="#4f8f4f" opacity="0.75"/>
<rect x="1325.6" y="562.5" width="1.3" height="21.0" fill="#4f8f4f" opacity="0.75"/>
<rect x="1329.0" y="562.5" width="1.3" height="21.0" fill="#4f8f4f" opacity="0.75"/>
<rect x="1332.4" y="562.5" width="1.3" height="21.0" fill="#4f8f4f" opacity="0.75"/>
<rect x="1159.6" y="562.5" width="0.9" height="21.0" fill="#8fa3d6" opacity="0.45"/>
<rect x="1339.0" y="562.5" width="0.9" height="21.0" fill="#8fa3d6" opacity="0.45"/>
<rect x="1172.3" y="562.5" width="0.9" height="21.0" fill="#8fa3d6" opacity="0.45"/>
<rect x="1159.5" y="610.9" width="256.8" height="6.8" fill="#0d0b0b"/>
<rect x="1276.5" y="603.8" width="1.3" height="21.0" fill="#4f8f4f" opacity="0.75"/>
<rect x="1285.3" y="603.8" width="1.3" height="21.0" fill="#4f8f4f" opacity="0.75"/>
<rect x="1290.9" y="603.8" width="1.3" height="21.0" fill="#4f8f4f" opacity="0.75"/>
<rect x="1299.4" y="603.8" width="1.3" height="21.0" fill="#4f8f4f" opacity="0.75"/>
<rect x="1317.5" y="603.8" width="1.3" height="21.0" fill="#4f8f4f" opacity="0.75"/>
<rect x="1323.9" y="603.8" width="1.3" height="21.0" fill="#4f8f4f" opacity="0.75"/>
<rect x="1328.2" y="603.8" width="1.3" height="21.0" fill="#4f8f4f" opacity="0.75"/>
<rect x="1333.8" y="603.8" width="1.3" height="21.0" fill="#4f8f4f" opacity="0.75"/>
<rect x="1337.8" y="603.8" width="1.3" height="21.0" fill="#4f8f4f" opacity="0.75"/>
<rect x="1159.6" y="603.8" width="0.9" height="21.0" fill="#8fa3d6" opacity="0.45"/>
<rect x="1259.8" y="603.8" width="0.9" height="21.0" fill="#8fa3d6" opacity="0.45"/>
<rect x="1415.9" y="603.8" width="0.9" height="21.0" fill="#8fa3d6" opacity="0.45"/>
<rect x="1159.5" y="653.4" width="146.8" height="6.8" fill="#0d0b0b"/>
<rect x="1175.5" y="646.3" width="1.3" height="21.0" fill="#4f8f4f" opacity="0.75"/>
<rect x="1184.3" y="646.3" width="1.3" height="21.0" fill="#4f8f4f" opacity="0.75"/>
<rect x="1189.7" y="646.3" width="1.3" height="21.0" fill="#4f8f4f" opacity="0.75"/>
<rect x="1200.7" y="646.3" width="1.3" height="21.0" fill="#4f8f4f" opacity="0.75"/>
<rect x="1218.5" y="646.3" width="1.3" height="21.0" fill="#4f8f4f" opacity="0.75"/>
<rect x="1223.2" y="646.3" width="1.3" height="21.0" fill="#4f8f4f" opacity="0.75"/>
<rect x="1227.4" y="646.3" width="1.3" height="21.0" fill="#4f8f4f" opacity="0.75"/>
<rect x="1232.2" y="646.3" width="1.3" height="21.0" fill="#4f8f4f" opacity="0.75"/>
<rect x="1236.4" y="646.3" width="1.3" height="21.0" fill="#4f8f4f" opacity="0.75"/>
<rect x="1159.6" y="646.3" width="0.9" height="21.0" fill="#8fa3d6" opacity="0.45"/>
<rect x="1161.1" y="646.3" width="0.9" height="21.0" fill="#8fa3d6" opacity="0.45"/>
<rect x="1305.9" y="646.3" width="0.9" height="21.0" fill="#8fa3d6" opacity="0.45"/>
<rect x="1159.5" y="695.7" width="162.0" height="6.8" fill="#0d0b0b"/>
<rect x="1175.5" y="688.6" width="1.3" height="21.0" fill="#4f8f4f" opacity="0.75"/>
<rect x="1184.3" y="688.6" width="1.3" height="21.0" fill="#4f8f4f" opacity="0.75"/>
<rect x="1189.7" y="688.6" width="1.3" height="21.0" fill="#4f8f4f" opacity="0.75"/>
<rect x="1198.7" y="688.6" width="1.3" height="21.0" fill="#4f8f4f" opacity="0.75"/>
<rect x="1216.8" y="688.6" width="1.3" height="21.0" fill="#4f8f4f" opacity="0.75"/>
<rect x="1221.5" y="688.6" width="1.3" height="21.0" fill="#4f8f4f" opacity="0.75"/>
<rect x="1224.9" y="688.6" width="1.3" height="21.0" fill="#4f8f4f" opacity="0.75"/>
<rect x="1230.3" y="688.6" width="1.3" height="21.0" fill="#4f8f4f" opacity="0.75"/>
<rect x="1234.2" y="688.6" width="1.3" height="21.0" fill="#4f8f4f" opacity="0.75"/>
<rect x="1159.6" y="688.6" width="0.9" height="21.0" fill="#8fa3d6" opacity="0.45"/>
<rect x="1164.1" y="688.6" width="0.9" height="21.0" fill="#8fa3d6" opacity="0.45"/>
<rect x="1321.5" y="688.6" width="2.7" height="21.0" fill="#2d4aa0"/>
<rect x="1159.5" y="737.0" width="179.9" height="6.8" fill="#0d0b0b"/>
<rect x="1188.5" y="729.9" width="1.3" height="21.0" fill="#4f8f4f" opacity="0.75"/>
<rect x="1256.6" y="729.9" width="1.3" height="21.0" fill="#4f8f4f" opacity="0.75"/>
<rect x="1271.1" y="729.9" width="1.3" height="21.0" fill="#4f8f4f" opacity="0.75"/>
<rect x="1283.3" y="729.9" width="1.3" height="21.0" fill="#4f8f4f" opacity="0.75"/>
<rect x="1284.5" y="729.9" width="1.3" height="21.0" fill="#4f8f4f" opacity="0.75"/>
<rect x="1290.9" y="729.9" width="1.3" height="21.0" fill="#4f8f4f" opacity="0.75"/>
<rect x="1296.0" y="729.9" width="1.3" height="21.0" fill="#4f8f4f" opacity="0.75"/>
<rect x="1323.9" y="729.9" width="1.3" height="21.0" fill="#4f8f4f" opacity="0.75"/>
<rect x="1327.7" y="729.9" width="1.3" height="21.0" fill="#4f8f4f" opacity="0.75"/>
<rect x="1336.6" y="729.9" width="1.3" height="21.0" fill="#4f8f4f" opacity="0.75"/>
<rect x="1159.6" y="729.9" width="0.9" height="21.0" fill="#8fa3d6" opacity="0.45"/>
<rect x="1185.0" y="729.9" width="0.9" height="21.0" fill="#8fa3d6" opacity="0.45"/>
<rect x="1339.0" y="729.9" width="0.9" height="21.0" fill="#8fa3d6" opacity="0.45"/>
<rect x="1159.5" y="779.3" width="195.5" height="6.8" fill="#0d0b0b"/>
<rect x="1185.6" y="772.2" width="1.3" height="21.0" fill="#4f8f4f" opacity="0.75"/>
<rect x="1276.0" y="772.2" width="1.3" height="21.0" fill="#4f8f4f" opacity="0.75"/>
<rect x="1285.0" y="772.2" width="1.3" height="21.0" fill="#4f8f4f" opacity="0.75"/>
<rect x="1296.8" y="772.2" width="1.3" height="21.0" fill="#4f8f4f" opacity="0.75"/>
<rect x="1298.5" y="772.2" width="1.3" height="21.0" fill="#4f8f4f" opacity="0.75"/>
<rect x="1303.6" y="772.2" width="1.3" height="21.0" fill="#4f8f4f" opacity="0.75"/>
<rect x="1307.8" y="772.2" width="1.3" height="21.0" fill="#4f8f4f" opacity="0.75"/>
<rect x="1340.0" y="772.2" width="1.3" height="21.0" fill="#4f8f4f" opacity="0.75"/>
<rect x="1343.9" y="772.2" width="1.3" height="21.0" fill="#4f8f4f" opacity="0.75"/>
<rect x="1352.7" y="772.2" width="1.3" height="21.0" fill="#4f8f4f" opacity="0.75"/>
<rect x="1159.6" y="772.2" width="0.9" height="21.0" fill="#8fa3d6" opacity="0.45"/>
<rect x="1182.4" y="772.2" width="0.9" height="21.0" fill="#8fa3d6" opacity="0.45"/>
<rect x="1354.6" y="772.2" width="0.9" height="21.0" fill="#8fa3d6" opacity="0.45"/>
<rect x="1159.5" y="822.0" width="184.5" height="6.8" fill="#0d0b0b"/>
<rect x="1174.6" y="814.9" width="1.3" height="21.0" fill="#4f8f4f" opacity="0.75"/>
<rect x="1260.4" y="814.9" width="1.3" height="21.0" fill="#4f8f4f" opacity="0.75"/>
<rect x="1269.8" y="814.9" width="1.3" height="21.0" fill="#4f8f4f" opacity="0.75"/>
<rect x="1281.6" y="814.9" width="1.3" height="21.0" fill="#4f8f4f" opacity="0.75"/>
<rect x="1283.6" y="814.9" width="1.3" height="21.0" fill="#4f8f4f" opacity="0.75"/>
<rect x="1293.5" y="814.9" width="1.3" height="21.0" fill="#4f8f4f" opacity="0.75"/>
<rect x="1297.2" y="814.9" width="1.3" height="21.0" fill="#4f8f4f" opacity="0.75"/>
<rect x="1329.0" y="814.9" width="1.3" height="21.0" fill="#4f8f4f" opacity="0.75"/>
<rect x="1332.9" y="814.9" width="1.3" height="21.0" fill="#4f8f4f" opacity="0.75"/>
<rect x="1341.7" y="814.9" width="1.3" height="21.0" fill="#4f8f4f" opacity="0.75"/>
<rect x="1159.6" y="814.9" width="0.9" height="21.0" fill="#8fa3d6" opacity="0.45"/>
<rect x="1170.9" y="814.9" width="0.9" height="21.0" fill="#8fa3d6" opacity="0.45"/>
<rect x="1343.6" y="814.9" width="0.9" height="21.0" fill="#8fa3d6" opacity="0.45"/>
<rect x="1160.3" y="865.2" width="89.7" height="6.8" fill="#0d0b0b"/>
<rect x="1181.7" y="858.1" width="1.3" height="21.0" fill="#4f8f4f" opacity="0.75"/>
<rect x="1191.9" y="858.1" width="1.3" height="21.0" fill="#4f8f4f" opacity="0.75"/>
<rect x="1200.0" y="858.1" width="1.3" height="21.0" fill="#4f8f4f" opacity="0.75"/>
<rect x="1205.1" y="858.1" width="1.3" height="21.0" fill="#4f8f4f" opacity="0.75"/>
<rect x="1216.4" y="858.1" width="1.3" height="21.0" fill="#4f8f4f" opacity="0.75"/>
<rect x="1221.5" y="858.1" width="1.3" height="21.0" fill="#4f8f4f" opacity="0.75"/>
<rect x="1224.9" y="858.1" width="1.3" height="21.0" fill="#4f8f4f" opacity="0.75"/>
<rect x="1238.4" y="858.1" width="1.3" height="21.0" fill="#4f8f4f" opacity="0.75"/>
<rect x="1246.4" y="858.1" width="1.3" height="21.0" fill="#4f8f4f" opacity="0.75"/>
<rect x="1169.2" y="858.1" width="0.9" height="21.0" fill="#8fa3d6" opacity="0.45"/>
<rect x="1159.8" y="858.1" width="1.5" height="21.0" fill="#2d4aa0"/>
<rect x="1248.8" y="858.1" width="1.8" height="21.0" fill="#2d4aa0"/>
<rect x="1159.5" y="907.6" width="101.5" height="6.8" fill="#0d0b0b"/>
<rect x="1185.6" y="900.5" width="1.3" height="21.0" fill="#4f8f4f" opacity="0.75"/>
<rect x="1195.8" y="900.5" width="1.3" height="21.0" fill="#4f8f4f" opacity="0.75"/>
<rect x="1204.6" y="900.5" width="1.3" height="21.0" fill="#4f8f4f" opacity="0.75"/>
<rect x="1209.7" y="900.5" width="1.3" height="21.0" fill="#4f8f4f" opacity="0.75"/>
<rect x="1218.1" y="900.5" width="1.3" height="21.0" fill="#4f8f4f" opacity="0.75"/>
<rect x="1222.7" y="900.5" width="1.3" height="21.0" fill="#4f8f4f" opacity="0.75"/>
<rect x="1226.1" y="900.5" width="1.3" height="21.0" fill="#4f8f4f" opacity="0.75"/>
<rect x="1248.6" y="900.5" width="1.3" height="21.0" fill="#4f8f4f" opacity="0.75"/>
<rect x="1257.9" y="900.5" width="1.3" height="21.0" fill="#4f8f4f" opacity="0.75"/>
<rect x="1159.6" y="900.5" width="0.9" height="21.0" fill="#8fa3d6" opacity="0.45"/>
<rect x="1170.9" y="900.5" width="0.9" height="21.0" fill="#8fa3d6" opacity="0.45"/>
<rect x="1260.2" y="900.5" width="1.7" height="21.0" fill="#2d4aa0"/>
<rect x="1159.5" y="950.3" width="101.5" height="6.8" fill="#0d0b0b"/>
<rect x="1185.6" y="943.2" width="1.3" height="21.0" fill="#4f8f4f" opacity="0.75"/>
<rect x="1195.8" y="943.2" width="1.3" height="21.0" fill="#4f8f4f" opacity="0.75"/>
<rect x="1204.6" y="943.2" width="1.3" height="21.0" fill="#4f8f4f" opacity="0.75"/>
<rect x="1209.7" y="943.2" width="1.3" height="21.0" fill="#4f8f4f" opacity="0.75"/>
<rect x="1218.1" y="943.2" width="1.3" height="21.0" fill="#4f8f4f" opacity="0.75"/>
<rect x="1222.7" y="943.2" width="1.3" height="21.0" fill="#4f8f4f" opacity="0.75"/>
<rect x="1226.1" y="943.2" width="1.3" height="21.0" fill="#4f8f4f" opacity="0.75"/>
<rect x="1248.6" y="943.2" width="1.3" height="21.0" fill="#4f8f4f" opacity="0.75"/>
<rect x="1257.9" y="943.2" width="1.3" height="21.0" fill="#4f8f4f" opacity="0.75"/>
<rect x="1159.6" y="943.2" width="0.9" height="21.0" fill="#8fa3d6" opacity="0.45"/>
<rect x="1170.9" y="943.2" width="0.9" height="21.0" fill="#8fa3d6" opacity="0.45"/>
<rect x="1260.2" y="943.2" width="1.7" height="21.0" fill="#2d4aa0"/>
<rect x="1160.3" y="991.7" width="72.0" height="6.8" fill="#0d0b0b"/>
<rect x="1167.0" y="984.6" width="1.3" height="21.0" fill="#4f8f4f" opacity="0.75"/>
<rect x="1177.5" y="984.6" width="1.3" height="21.0" fill="#4f8f4f" opacity="0.75"/>
<rect x="1195.3" y="984.6" width="1.3" height="21.0" fill="#4f8f4f" opacity="0.75"/>
<rect x="1198.3" y="984.6" width="1.3" height="21.0" fill="#4f8f4f" opacity="0.75"/>
<rect x="1206.3" y="984.6" width="1.3" height="21.0" fill="#4f8f4f" opacity="0.75"/>
<rect x="1211.4" y="984.6" width="1.3" height="21.0" fill="#4f8f4f" opacity="0.75"/>
<rect x="1215.2" y="984.6" width="1.3" height="21.0" fill="#4f8f4f" opacity="0.75"/>
<rect x="1217.3" y="984.6" width="1.3" height="21.0" fill="#4f8f4f" opacity="0.75"/>
<rect x="1227.4" y="984.6" width="1.3" height="21.0" fill="#4f8f4f" opacity="0.75"/>
<rect x="1159.9" y="984.6" width="0.9" height="21.0" fill="#8fa3d6" opacity="0.45"/>
<rect x="1232.3" y="984.6" width="13.0" height="21.0" fill="#2d4aa0"/>
<rect x="1160.3" y="1034.1" width="71.5" height="6.8" fill="#0d0b0b"/>
<rect x="1160.2" y="1027.0" width="1.3" height="21.0" fill="#4f8f4f" opacity="0.75"/>
<rect x="1167.0" y="1027.0" width="1.3" height="21.0" fill="#4f8f4f" opacity="0.75"/>
<rect x="1177.5" y="1027.0" width="1.3" height="21.0" fill="#4f8f4f" opacity="0.75"/>
<rect x="1197.0" y="1027.0" width="1.3" height="21.0" fill="#4f8f4f" opacity="0.75"/>
<rect x="1199.5" y="1027.0" width="1.3" height="21.0" fill="#4f8f4f" opacity="0.75"/>
<rect x="1207.1" y="1027.0" width="1.3" height="21.0" fill="#4f8f4f" opacity="0.75"/>
<rect x="1212.2" y="1027.0" width="1.3" height="21.0" fill="#4f8f4f" opacity="0.75"/>
<rect x="1215.2" y="1027.0" width="1.3" height="21.0" fill="#4f8f4f" opacity="0.75"/>
<rect x="1217.6" y="1027.0" width="1.3" height="21.0" fill="#4f8f4f" opacity="0.75"/>
<rect x="1227.4" y="1027.0" width="1.3" height="21.0" fill="#4f8f4f" opacity="0.75"/>
<rect x="1231.3" y="1027.0" width="1.3" height="21.0" fill="#4f8f4f" opacity="0.75"/>
<rect x="1160.3" y="1076.7" width="76.5" height="6.8" fill="#0d0b0b"/>
<rect x="1160.2" y="1069.6" width="1.3" height="21.0" fill="#4f8f4f" opacity="0.75"/>
<rect x="1167.0" y="1069.6" width="1.3" height="21.0" fill="#4f8f4f" opacity="0.75"/>
<rect x="1177.5" y="1069.6" width="1.3" height="21.0" fill="#4f8f4f" opacity="0.75"/>
<rect x="1197.0" y="1069.6" width="1.3" height="21.0" fill="#4f8f4f" opacity="0.75"/>
<rect x="1199.5" y="1069.6" width="1.3" height="21.0" fill="#4f8f4f" opacity="0.75"/>
<rect x="1211.4" y="1069.6" width="1.3" height="21.0" fill="#4f8f4f" opacity="0.75"/>
<rect x="1217.3" y="1069.6" width="1.3" height="21.0" fill="#4f8f4f" opacity="0.75"/>
<rect x="1219.8" y="1069.6" width="1.3" height="21.0" fill="#4f8f4f" opacity="0.75"/>
<rect x="1222.4" y="1069.6" width="1.3" height="21.0" fill="#4f8f4f" opacity="0.75"/>
<rect x="1232.2" y="1069.6" width="1.3" height="21.0" fill="#4f8f4f" opacity="0.75"/>
<rect x="1235.9" y="1069.6" width="1.3" height="21.0" fill="#4f8f4f" opacity="0.75"/>
<rect x="1160.3" y="1118.2" width="204.9" height="6.8" fill="#0d0b0b"/>
<rect x="1276.9" y="1111.1" width="1.3" height="21.0" fill="#4f8f4f" opacity="0.75"/>
<rect x="1279.1" y="1111.1" width="1.3" height="21.0" fill="#4f8f4f" opacity="0.75"/>
<rect x="1290.6" y="1111.1" width="1.3" height="21.0" fill="#4f8f4f" opacity="0.75"/>
<rect x="1298.5" y="1111.1" width="1.3" height="21.0" fill="#4f8f4f" opacity="0.75"/>
<rect x="1307.3" y="1111.1" width="1.3" height="21.0" fill="#4f8f4f" opacity="0.75"/>
<rect x="1309.5" y="1111.1" width="1.3" height="21.0" fill="#4f8f4f" opacity="0.75"/>
<rect x="1318.0" y="1111.1" width="1.3" height="21.0" fill="#4f8f4f" opacity="0.75"/>
<rect x="1324.8" y="1111.1" width="1.3" height="21.0" fill="#4f8f4f" opacity="0.75"/>
<rect x="1331.9" y="1111.1" width="1.3" height="21.0" fill="#4f8f4f" opacity="0.75"/>
<rect x="1334.9" y="1111.1" width="1.3" height="21.0" fill="#4f8f4f" opacity="0.75"/>
<rect x="1337.5" y="1111.1" width="1.3" height="21.0" fill="#4f8f4f" opacity="0.75"/>
<rect x="1348.5" y="1111.1" width="1.3" height="21.0" fill="#4f8f4f" opacity="0.75"/>
<rect x="1352.2" y="1111.1" width="1.3" height="21.0" fill="#4f8f4f" opacity="0.75"/>
<rect x="1357.8" y="1111.1" width="1.3" height="21.0" fill="#4f8f4f" opacity="0.75"/>
<rect x="1362.4" y="1111.1" width="1.3" height="21.0" fill="#4f8f4f" opacity="0.75"/>
<rect x="1160.4" y="1111.1" width="0.9" height="21.0" fill="#8fa3d6" opacity="0.45"/>
<rect x="1229.0" y="1111.1" width="0.9" height="21.0" fill="#8fa3d6" opacity="0.45"/>
<rect x="1365.2" y="1111.1" width="4.7" height="21.0" fill="#2d4aa0"/>
<rect x="1160.3" y="1157.1" width="206.9" height="6.8" fill="#0d0b0b"/>
<rect x="1166.8" y="1150.0" width="1.3" height="21.0" fill="#4f8f4f" opacity="0.75"/>
<rect x="1172.9" y="1150.0" width="1.3" height="21.0" fill="#4f8f4f" opacity="0.75"/>
<rect x="1178.0" y="1150.0" width="1.3" height="21.0" fill="#4f8f4f" opacity="0.75"/>
<rect x="1181.4" y="1150.0" width="1.3" height="21.0" fill="#4f8f4f" opacity="0.75"/>
<rect x="1191.0" y="1150.0" width="1.3" height="21.0" fill="#4f8f4f" opacity="0.75"/>
<rect x="1193.6" y="1150.0" width="1.3" height="21.0" fill="#4f8f4f" opacity="0.75"/>
<rect x="1197.0" y="1150.0" width="1.3" height="21.0" fill="#4f8f4f" opacity="0.75"/>
<rect x="1203.4" y="1150.0" width="1.3" height="21.0" fill="#4f8f4f" opacity="0.75"/>
<rect x="1210.5" y="1150.0" width="1.3" height="21.0" fill="#4f8f4f" opacity="0.75"/>
<rect x="1219.0" y="1150.0" width="1.3" height="21.0" fill="#4f8f4f" opacity="0.75"/>
<rect x="1221.5" y="1150.0" width="1.3" height="21.0" fill="#4f8f4f" opacity="0.75"/>
<rect x="1231.7" y="1150.0" width="1.3" height="21.0" fill="#4f8f4f" opacity="0.75"/>
<rect x="1240.1" y="1150.0" width="1.3" height="21.0" fill="#4f8f4f" opacity="0.75"/>
<rect x="1251.6" y="1150.0" width="1.3" height="21.0" fill="#4f8f4f" opacity="0.75"/>
<rect x="1253.7" y="1150.0" width="1.3" height="21.0" fill="#4f8f4f" opacity="0.75"/>
<rect x="1301.3" y="1150.0" width="0.9" height="21.0" fill="#8fa3d6" opacity="0.45"/>
<rect x="1366.8" y="1150.0" width="0.9" height="21.0" fill="#8fa3d6" opacity="0.45"/>
<rect x="1160.3" y="1150.0" width="4.8" height="21.0" fill="#2d4aa0"/>
<rect x="1160.3" y="1199.5" width="210.3" height="6.8" fill="#0d0b0b"/>
<rect x="1166.5" y="1192.4" width="1.3" height="21.0" fill="#4f8f4f" opacity="0.75"/>
<rect x="1171.2" y="1192.4" width="1.3" height="21.0" fill="#4f8f4f" opacity="0.75"/>
<rect x="1177.0" y="1192.4" width="1.3" height="21.0" fill="#4f8f4f" opacity="0.75"/>
<rect x="1180.5" y="1192.4" width="1.3" height="21.0" fill="#4f8f4f" opacity="0.75"/>
<rect x="1191.9" y="1192.4" width="1.3" height="21.0" fill="#4f8f4f" opacity="0.75"/>
<rect x="1195.3" y="1192.4" width="1.3" height="21.0" fill="#4f8f4f" opacity="0.75"/>
<rect x="1197.8" y="1192.4" width="1.3" height="21.0" fill="#4f8f4f" opacity="0.75"/>
<rect x="1204.2" y="1192.4" width="1.3" height="21.0" fill="#4f8f4f" opacity="0.75"/>
<rect x="1211.7" y="1192.4" width="1.3" height="21.0" fill="#4f8f4f" opacity="0.75"/>
<rect x="1219.8" y="1192.4" width="1.3" height="21.0" fill="#4f8f4f" opacity="0.75"/>
<rect x="1221.5" y="1192.4" width="1.3" height="21.0" fill="#4f8f4f" opacity="0.75"/>
<rect x="1230.8" y="1192.4" width="1.3" height="21.0" fill="#4f8f4f" opacity="0.75"/>
<rect x="1238.8" y="1192.4" width="1.3" height="21.0" fill="#4f8f4f" opacity="0.75"/>
<rect x="1250.3" y="1192.4" width="1.3" height="21.0" fill="#4f8f4f" opacity="0.75"/>
<rect x="1252.5" y="1192.4" width="1.3" height="21.0" fill="#4f8f4f" opacity="0.75"/>
<rect x="1300.4" y="1192.4" width="0.9" height="21.0" fill="#8fa3d6" opacity="0.45"/>
<rect x="1370.2" y="1192.4" width="0.9" height="21.0" fill="#8fa3d6" opacity="0.45"/>
<rect x="1160.3" y="1192.4" width="4.8" height="21.0" fill="#2d4aa0"/>
<rect x="1160.8" y="1242.9" width="236.5" height="6.8" fill="#0d0b0b"/>
<rect x="1329.9" y="1235.8" width="1.3" height="21.0" fill="#4f8f4f" opacity="0.75"/>
<rect x="1333.8" y="1235.8" width="1.3" height="21.0" fill="#4f8f4f" opacity="0.75"/>
<rect x="1337.5" y="1235.8" width="1.3" height="21.0" fill="#4f8f4f" opacity="0.75"/>
<rect x="1343.1" y="1235.8" width="1.3" height="21.0" fill="#4f8f4f" opacity="0.75"/>
<rect x="1346.8" y="1235.8" width="1.3" height="21.0" fill="#4f8f4f" opacity="0.75"/>
<rect x="1349.8" y="1235.8" width="1.3" height="21.0" fill="#4f8f4f" opacity="0.75"/>
<rect x="1356.4" y="1235.8" width="1.3" height="21.0" fill="#4f8f4f" opacity="0.75"/>
<rect x="1362.9" y="1235.8" width="1.3" height="21.0" fill="#4f8f4f" opacity="0.75"/>
<rect x="1368.3" y="1235.8" width="1.3" height="21.0" fill="#4f8f4f" opacity="0.75"/>
<rect x="1372.2" y="1235.8" width="1.3" height="21.0" fill="#4f8f4f" opacity="0.75"/>
<rect x="1377.8" y="1235.8" width="1.3" height="21.0" fill="#4f8f4f" opacity="0.75"/>
<rect x="1382.9" y="1235.8" width="1.3" height="21.0" fill="#4f8f4f" opacity="0.75"/>
<rect x="1160.4" y="1235.8" width="0.9" height="21.0" fill="#8fa3d6" opacity="0.45"/>
<rect x="1297.9" y="1235.8" width="0.9" height="21.0" fill="#8fa3d6" opacity="0.45"/>
<rect x="1397.0" y="1235.8" width="5.9" height="21.0" fill="#2d4aa0"/>
<rect x="1160.7" y="1285.2" width="223.6" height="6.8" fill="#0d0b0b"/>
<rect x="1180.0" y="1278.1" width="1.3" height="21.0" fill="#4f8f4f" opacity="0.75"/>
<rect x="1184.8" y="1278.1" width="1.3" height="21.0" fill="#4f8f4f" opacity="0.75"/>
<rect x="1190.7" y="1278.1" width="1.3" height="21.0" fill="#4f8f4f" opacity="0.75"/>
<rect x="1194.4" y="1278.1" width="1.3" height="21.0" fill="#4f8f4f" opacity="0.75"/>
<rect x="1201.2" y="1278.1" width="1.3" height="21.0" fill="#4f8f4f" opacity="0.75"/>
<rect x="1208.0" y="1278.1" width="1.3" height="21.0" fill="#4f8f4f" opacity="0.75"/>
<rect x="1213.9" y="1278.1" width="1.3" height="21.0" fill="#4f8f4f" opacity="0.75"/>
<rect x="1216.4" y="1278.1" width="1.3" height="21.0" fill="#4f8f4f" opacity="0.75"/>
<rect x="1220.3" y="1278.1" width="1.3" height="21.0" fill="#4f8f4f" opacity="0.75"/>
<rect x="1225.7" y="1278.1" width="1.3" height="21.0" fill="#4f8f4f" opacity="0.75"/>
<rect x="1230.0" y="1278.1" width="1.3" height="21.0" fill="#4f8f4f" opacity="0.75"/>
<rect x="1234.2" y="1278.1" width="1.3" height="21.0" fill="#4f8f4f" opacity="0.75"/>
<rect x="1266.6" y="1278.1" width="0.9" height="21.0" fill="#8fa3d6" opacity="0.45"/>
<rect x="1383.9" y="1278.1" width="0.9" height="21.0" fill="#8fa3d6" opacity="0.45"/>
<rect x="1160.7" y="1278.1" width="6.0" height="21.0" fill="#2d4aa0"/>
<rect x="1160.8" y="1327.9" width="219.6" height="6.8" fill="#0d0b0b"/>
<rect x="1311.2" y="1320.8" width="1.3" height="21.0" fill="#4f8f4f" opacity="0.75"/>
<rect x="1315.5" y="1320.8" width="1.3" height="21.0" fill="#4f8f4f" opacity="0.75"/>
<rect x="1319.4" y="1320.8" width="1.3" height="21.0" fill="#4f8f4f" opacity="0.75"/>
<rect x="1325.1" y="1320.8" width="1.3" height="21.0" fill="#4f8f4f" opacity="0.75"/>
<rect x="1329.0" y="1320.8" width="1.3" height="21.0" fill="#4f8f4f" opacity="0.75"/>
<rect x="1331.0" y="1320.8" width="1.3" height="21.0" fill="#4f8f4f" opacity="0.75"/>
<rect x="1337.8" y="1320.8" width="1.3" height="21.0" fill="#4f8f4f" opacity="0.75"/>
<rect x="1344.6" y="1320.8" width="1.3" height="21.0" fill="#4f8f4f" opacity="0.75"/>
<rect x="1351.0" y="1320.8" width="1.3" height="21.0" fill="#4f8f4f" opacity="0.75"/>
<rect x="1354.7" y="1320.8" width="1.3" height="21.0" fill="#4f8f4f" opacity="0.75"/>
<rect x="1360.3" y="1320.8" width="1.3" height="21.0" fill="#4f8f4f" opacity="0.75"/>
<rect x="1365.1" y="1320.8" width="1.3" height="21.0" fill="#4f8f4f" opacity="0.75"/>
<rect x="1160.4" y="1320.8" width="0.9" height="21.0" fill="#8fa3d6" opacity="0.45"/>
<rect x="1279.3" y="1320.8" width="0.9" height="21.0" fill="#8fa3d6" opacity="0.45"/>
<rect x="1380.1" y="1320.8" width="5.7" height="21.0" fill="#2d4aa0"/>
<rect x="1160.3" y="1367.4" width="247.5" height="6.8" fill="#0d0b0b"/>
<rect x="1189.9" y="1360.3" width="1.3" height="21.0" fill="#4f8f4f" opacity="0.75"/>
<rect x="1198.3" y="1360.3" width="1.3" height="21.0" fill="#4f8f4f" opacity="0.75"/>
<rect x="1203.7" y="1360.3" width="1.3" height="21.0" fill="#4f8f4f" opacity="0.75"/>
<rect x="1212.2" y="1360.3" width="1.3" height="21.0" fill="#4f8f4f" opacity="0.75"/>
<rect x="1218.1" y="1360.3" width="1.3" height="21.0" fill="#4f8f4f" opacity="0.75"/>
<rect x="1222.4" y="1360.3" width="1.3" height="21.0" fill="#4f8f4f" opacity="0.75"/>
<rect x="1251.1" y="1360.3" width="1.3" height="21.0" fill="#4f8f4f" opacity="0.75"/>
<rect x="1254.5" y="1360.3" width="1.3" height="21.0" fill="#4f8f4f" opacity="0.75"/>
<rect x="1263.8" y="1360.3" width="1.3" height="21.0" fill="#4f8f4f" opacity="0.75"/>
<rect x="1265.5" y="1360.3" width="1.3" height="21.0" fill="#4f8f4f" opacity="0.75"/>
<rect x="1267.2" y="1360.3" width="1.3" height="21.0" fill="#4f8f4f" opacity="0.75"/>
<rect x="1269.1" y="1360.3" width="0.9" height="21.0" fill="#8fa3d6" opacity="0.45"/>
<rect x="1310.6" y="1360.3" width="0.9" height="21.0" fill="#8fa3d6" opacity="0.45"/>
<rect x="1407.4" y="1360.3" width="0.9" height="21.0" fill="#8fa3d6" opacity="0.45"/>
<rect x="1160.3" y="1360.3" width="8.8" height="21.0" fill="#2d4aa0"/>
<rect x="1160.3" y="1410.0" width="226.0" height="6.8" fill="#0d0b0b"/>
<rect x="1293.5" y="1402.9" width="1.3" height="21.0" fill="#4f8f4f" opacity="0.75"/>
<rect x="1295.5" y="1402.9" width="1.3" height="21.0" fill="#4f8f4f" opacity="0.75"/>
<rect x="1305.0" y="1402.9" width="1.3" height="21.0" fill="#4f8f4f" opacity="0.75"/>
<rect x="1308.4" y="1402.9" width="1.3" height="21.0" fill="#4f8f4f" opacity="0.75"/>
<rect x="1335.4" y="1402.9" width="1.3" height="21.0" fill="#4f8f4f" opacity="0.75"/>
<rect x="1340.4" y="1402.9" width="1.3" height="21.0" fill="#4f8f4f" opacity="0.75"/>
<rect x="1346.3" y="1402.9" width="1.3" height="21.0" fill="#4f8f4f" opacity="0.75"/>
<rect x="1354.4" y="1402.9" width="1.3" height="21.0" fill="#4f8f4f" opacity="0.75"/>
<rect x="1359.2" y="1402.9" width="1.3" height="21.0" fill="#4f8f4f" opacity="0.75"/>
<rect x="1365.1" y="1402.9" width="1.3" height="21.0" fill="#4f8f4f" opacity="0.75"/>
<rect x="1159.9" y="1402.9" width="0.9" height="21.0" fill="#8fa3d6" opacity="0.45"/>
<rect x="1250.5" y="1402.9" width="0.9" height="21.0" fill="#8fa3d6" opacity="0.45"/>
<rect x="1386.3" y="1402.9" width="8.8" height="21.0" fill="#2d4aa0"/>
<rect x="1160.3" y="1452.3" width="230.6" height="6.8" fill="#0d0b0b"/>
<rect x="1298.5" y="1445.2" width="1.3" height="21.0" fill="#4f8f4f" opacity="0.75"/>
<rect x="1300.6" y="1445.2" width="1.3" height="21.0" fill="#4f8f4f" opacity="0.75"/>
<rect x="1310.1" y="1445.2" width="1.3" height="21.0" fill="#4f8f4f" opacity="0.75"/>
<rect x="1312.9" y="1445.2" width="1.3" height="21.0" fill="#4f8f4f" opacity="0.75"/>
<rect x="1338.3" y="1445.2" width="1.3" height="21.0" fill="#4f8f4f" opacity="0.75"/>
<rect x="1342.9" y="1445.2" width="1.3" height="21.0" fill="#4f8f4f" opacity="0.75"/>
<rect x="1348.8" y="1445.2" width="1.3" height="21.0" fill="#4f8f4f" opacity="0.75"/>
<rect x="1357.0" y="1445.2" width="1.3" height="21.0" fill="#4f8f4f" opacity="0.75"/>
<rect x="1361.7" y="1445.2" width="1.3" height="21.0" fill="#4f8f4f" opacity="0.75"/>
<rect x="1369.6" y="1445.2" width="1.3" height="21.0" fill="#4f8f4f" opacity="0.75"/>
<rect x="1159.9" y="1445.2" width="0.9" height="21.0" fill="#8fa3d6" opacity="0.45"/>
<rect x="1255.6" y="1445.2" width="0.9" height="21.0" fill="#8fa3d6" opacity="0.45"/>
<rect x="1296.2" y="1445.2" width="0.9" height="21.0" fill="#8fa3d6" opacity="0.45"/>
<rect x="1390.9" y="1445.2" width="8.6" height="21.0" fill="#2d4aa0"/>
<rect x="1160.7" y="1499.2" width="163.5" height="6.8" fill="#0d0b0b"/>
<rect x="1240.6" y="1492.1" width="1.3" height="21.0" fill="#4f8f4f" opacity="0.75"/>
<rect x="1260.4" y="1492.1" width="1.3" height="21.0" fill="#4f8f4f" opacity="0.75"/>
<rect x="1268.1" y="1492.1" width="1.3" height="21.0" fill="#4f8f4f" opacity="0.75"/>
<rect x="1271.5" y="1492.1" width="1.3" height="21.0" fill="#4f8f4f" opacity="0.75"/>
<rect x="1274.5" y="1492.1" width="1.3" height="21.0" fill="#4f8f4f" opacity="0.75"/>
<rect x="1276.9" y="1492.1" width="1.3" height="21.0" fill="#4f8f4f" opacity="0.75"/>
<rect x="1279.6" y="1492.1" width="1.3" height="21.0" fill="#4f8f4f" opacity="0.75"/>
<rect x="1287.5" y="1492.1" width="1.3" height="21.0" fill="#4f8f4f" opacity="0.75"/>
<rect x="1292.6" y="1492.1" width="1.3" height="21.0" fill="#4f8f4f" opacity="0.75"/>
<rect x="1294.3" y="1492.1" width="1.3" height="21.0" fill="#4f8f4f" opacity="0.75"/>
<rect x="1303.6" y="1492.1" width="1.3" height="21.0" fill="#4f8f4f" opacity="0.75"/>
<rect x="1305.3" y="1492.1" width="1.3" height="21.0" fill="#4f8f4f" opacity="0.75"/>
<rect x="1307.0" y="1492.1" width="1.3" height="21.0" fill="#4f8f4f" opacity="0.75"/>
<rect x="1313.8" y="1492.1" width="1.3" height="21.0" fill="#4f8f4f" opacity="0.75"/>
<rect x="1316.3" y="1492.1" width="1.3" height="21.0" fill="#4f8f4f" opacity="0.75"/>
<rect x="1318.0" y="1492.1" width="1.3" height="21.0" fill="#4f8f4f" opacity="0.75"/>
<rect x="1160.3" y="1492.1" width="0.9" height="21.0" fill="#8fa3d6" opacity="0.45"/>
<rect x="1176.5" y="1492.1" width="0.9" height="21.0" fill="#8fa3d6" opacity="0.45"/>
<rect x="1228.5" y="1492.1" width="0.9" height="21.0" fill="#8fa3d6" opacity="0.45"/>
<rect x="1323.8" y="1492.1" width="0.9" height="21.0" fill="#8fa3d6" opacity="0.45"/>
<rect x="1160.7" y="1541.9" width="189.7" height="6.8" fill="#0d0b0b"/>
<rect x="1166.8" y="1534.8" width="1.3" height="21.0" fill="#4f8f4f" opacity="0.75"/>
<rect x="1169.5" y="1534.8" width="1.3" height="21.0" fill="#4f8f4f" opacity="0.75"/>
<rect x="1171.6" y="1534.8" width="1.3" height="21.0" fill="#4f8f4f" opacity="0.75"/>
<rect x="1177.0" y="1534.8" width="1.3" height="21.0" fill="#4f8f4f" opacity="0.75"/>
<rect x="1180.0" y="1534.8" width="1.3" height="21.0" fill="#4f8f4f" opacity="0.75"/>
<rect x="1189.9" y="1534.8" width="1.3" height="21.0" fill="#4f8f4f" opacity="0.75"/>
<rect x="1191.9" y="1534.8" width="1.3" height="21.0" fill="#4f8f4f" opacity="0.75"/>
<rect x="1196.1" y="1534.8" width="1.3" height="21.0" fill="#4f8f4f" opacity="0.75"/>
<rect x="1203.7" y="1534.8" width="1.3" height="21.0" fill="#4f8f4f" opacity="0.75"/>
<rect x="1206.3" y="1534.8" width="1.3" height="21.0" fill="#4f8f4f" opacity="0.75"/>
<rect x="1208.8" y="1534.8" width="1.3" height="21.0" fill="#4f8f4f" opacity="0.75"/>
<rect x="1211.9" y="1534.8" width="1.3" height="21.0" fill="#4f8f4f" opacity="0.75"/>
<rect x="1215.2" y="1534.8" width="1.3" height="21.0" fill="#4f8f4f" opacity="0.75"/>
<rect x="1223.2" y="1534.8" width="1.3" height="21.0" fill="#4f8f4f" opacity="0.75"/>
<rect x="1242.3" y="1534.8" width="1.3" height="21.0" fill="#4f8f4f" opacity="0.75"/>
<rect x="1160.3" y="1534.8" width="0.9" height="21.0" fill="#8fa3d6" opacity="0.45"/>
<rect x="1254.7" y="1534.8" width="0.9" height="21.0" fill="#8fa3d6" opacity="0.45"/>
<rect x="1350.0" y="1534.8" width="0.9" height="21.0" fill="#8fa3d6" opacity="0.45"/>
<rect x="1160.7" y="1584.2" width="189.2" height="6.8" fill="#0d0b0b"/>
<rect x="1267.2" y="1577.1" width="1.3" height="21.0" fill="#4f8f4f" opacity="0.75"/>
<rect x="1285.8" y="1577.1" width="1.3" height="21.0" fill="#4f8f4f" opacity="0.75"/>
<rect x="1293.5" y="1577.1" width="1.3" height="21.0" fill="#4f8f4f" opacity="0.75"/>
<rect x="1296.8" y="1577.1" width="1.3" height="21.0" fill="#4f8f4f" opacity="0.75"/>
<rect x="1299.4" y="1577.1" width="1.3" height="21.0" fill="#4f8f4f" opacity="0.75"/>
<rect x="1302.8" y="1577.1" width="1.3" height="21.0" fill="#4f8f4f" opacity="0.75"/>
<rect x="1305.3" y="1577.1" width="1.3" height="21.0" fill="#4f8f4f" opacity="0.75"/>
<rect x="1312.9" y="1577.1" width="1.3" height="21.0" fill="#4f8f4f" opacity="0.75"/>
<rect x="1316.3" y="1577.1" width="1.3" height="21.0" fill="#4f8f4f" opacity="0.75"/>
<rect x="1318.9" y="1577.1" width="1.3" height="21.0" fill="#4f8f4f" opacity="0.75"/>
<rect x="1328.2" y="1577.1" width="1.3" height="21.0" fill="#4f8f4f" opacity="0.75"/>
<rect x="1331.6" y="1577.1" width="1.3" height="21.0" fill="#4f8f4f" opacity="0.75"/>
<rect x="1337.8" y="1577.1" width="1.3" height="21.0" fill="#4f8f4f" opacity="0.75"/>
<rect x="1340.0" y="1577.1" width="1.3" height="21.0" fill="#4f8f4f" opacity="0.75"/>
<rect x="1342.6" y="1577.1" width="1.3" height="21.0" fill="#4f8f4f" opacity="0.75"/>
<rect x="1160.3" y="1577.1" width="0.9" height="21.0" fill="#8fa3d6" opacity="0.45"/>
<rect x="1254.7" y="1577.1" width="0.9" height="21.0" fill="#8fa3d6" opacity="0.45"/>
<rect x="1349.5" y="1577.1" width="0.9" height="21.0" fill="#8fa3d6" opacity="0.45"/>
<rect x="1160.3" y="1626.5" width="201.0" height="6.8" fill="#0d0b0b"/>
<rect x="1217.6" y="1619.4" width="1.3" height="21.0" fill="#4f8f4f" opacity="0.75"/>
<rect x="1233.9" y="1619.4" width="1.3" height="21.0" fill="#4f8f4f" opacity="0.75"/>
<rect x="1236.7" y="1619.4" width="1.3" height="21.0" fill="#4f8f4f" opacity="0.75"/>
<rect x="1239.3" y="1619.4" width="1.3" height="21.0" fill="#4f8f4f" opacity="0.75"/>
<rect x="1241.8" y="1619.4" width="1.3" height="21.0" fill="#4f8f4f" opacity="0.75"/>
<rect x="1245.7" y="1619.4" width="1.3" height="21.0" fill="#4f8f4f" opacity="0.75"/>
<rect x="1250.3" y="1619.4" width="1.3" height="21.0" fill="#4f8f4f" opacity="0.75"/>
<rect x="1277.4" y="1619.4" width="1.3" height="21.0" fill="#4f8f4f" opacity="0.75"/>
<rect x="1283.3" y="1619.4" width="1.3" height="21.0" fill="#4f8f4f" opacity="0.75"/>
<rect x="1295.2" y="1619.4" width="1.3" height="21.0" fill="#4f8f4f" opacity="0.75"/>
<rect x="1297.7" y="1619.4" width="1.3" height="21.0" fill="#4f8f4f" opacity="0.75"/>
<rect x="1301.6" y="1619.4" width="1.3" height="21.0" fill="#4f8f4f" opacity="0.75"/>
<rect x="1306.2" y="1619.4" width="1.3" height="21.0" fill="#4f8f4f" opacity="0.75"/>
<rect x="1314.6" y="1619.4" width="1.3" height="21.0" fill="#4f8f4f" opacity="0.75"/>
<rect x="1317.2" y="1619.4" width="1.3" height="21.0" fill="#4f8f4f" opacity="0.75"/>
<rect x="1327.3" y="1619.4" width="1.3" height="21.0" fill="#4f8f4f" opacity="0.75"/>
<rect x="1331.6" y="1619.4" width="1.3" height="21.0" fill="#4f8f4f" opacity="0.75"/>
<rect x="1335.4" y="1619.4" width="1.3" height="21.0" fill="#4f8f4f" opacity="0.75"/>
<rect x="1159.9" y="1619.4" width="0.9" height="21.0" fill="#8fa3d6" opacity="0.45"/>
<rect x="1361.3" y="1619.4" width="11.1" height="21.0" fill="#2d4aa0"/>
<rect x="1160.3" y="1668.8" width="209.1" height="6.8" fill="#0d0b0b"/>
<rect x="1197.8" y="1661.7" width="1.3" height="21.0" fill="#4f8f4f" opacity="0.75"/>
<rect x="1201.2" y="1661.7" width="1.3" height="21.0" fill="#4f8f4f" opacity="0.75"/>
<rect x="1205.4" y="1661.7" width="1.3" height="21.0" fill="#4f8f4f" opacity="0.75"/>
<rect x="1214.7" y="1661.7" width="1.3" height="21.0" fill="#4f8f4f" opacity="0.75"/>
<rect x="1217.6" y="1661.7" width="1.3" height="21.0" fill="#4f8f4f" opacity="0.75"/>
<rect x="1226.1" y="1661.7" width="1.3" height="21.0" fill="#4f8f4f" opacity="0.75"/>
<rect x="1230.8" y="1661.7" width="1.3" height="21.0" fill="#4f8f4f" opacity="0.75"/>
<rect x="1235.1" y="1661.7" width="1.3" height="21.0" fill="#4f8f4f" opacity="0.75"/>
<rect x="1237.3" y="1661.7" width="1.3" height="21.0" fill="#4f8f4f" opacity="0.75"/>
<rect x="1248.6" y="1661.7" width="1.3" height="21.0" fill="#4f8f4f" opacity="0.75"/>
<rect x="1255.4" y="1661.7" width="1.3" height="21.0" fill="#4f8f4f" opacity="0.75"/>
<rect x="1285.8" y="1661.7" width="1.3" height="21.0" fill="#4f8f4f" opacity="0.75"/>
<rect x="1293.5" y="1661.7" width="1.3" height="21.0" fill="#4f8f4f" opacity="0.75"/>
<rect x="1296.0" y="1661.7" width="1.3" height="21.0" fill="#4f8f4f" opacity="0.75"/>
<rect x="1298.5" y="1661.7" width="1.3" height="21.0" fill="#4f8f4f" opacity="0.75"/>
<rect x="1301.6" y="1661.7" width="1.3" height="21.0" fill="#4f8f4f" opacity="0.75"/>
<rect x="1311.7" y="1661.7" width="1.3" height="21.0" fill="#4f8f4f" opacity="0.75"/>
<rect x="1369.0" y="1661.7" width="0.9" height="21.0" fill="#8fa3d6" opacity="0.45"/>
<rect x="1160.3" y="1661.7" width="11.4" height="21.0" fill="#2d4aa0"/>
<rect x="1160.3" y="1711.5" width="199.8" height="6.8" fill="#0d0b0b"/>
<rect x="1219.0" y="1704.4" width="1.3" height="21.0" fill="#4f8f4f" opacity="0.75"/>
<rect x="1229.1" y="1704.4" width="1.3" height="21.0" fill="#4f8f4f" opacity="0.75"/>
<rect x="1232.5" y="1704.4" width="1.3" height="21.0" fill="#4f8f4f" opacity="0.75"/>
<rect x="1234.2" y="1704.4" width="1.3" height="21.0" fill="#4f8f4f" opacity="0.75"/>
<rect x="1236.7" y="1704.4" width="1.3" height="21.0" fill="#4f8f4f" opacity="0.75"/>
<rect x="1240.6" y="1704.4" width="1.3" height="21.0" fill="#4f8f4f" opacity="0.75"/>
<rect x="1244.7" y="1704.4" width="1.3" height="21.0" fill="#4f8f4f" opacity="0.75"/>
<rect x="1275.7" y="1704.4" width="1.3" height="21.0" fill="#4f8f4f" opacity="0.75"/>
<rect x="1281.3" y="1704.4" width="1.3" height="21.0" fill="#4f8f4f" opacity="0.75"/>
<rect x="1293.5" y="1704.4" width="1.3" height="21.0" fill="#4f8f4f" opacity="0.75"/>
<rect x="1296.0" y="1704.4" width="1.3" height="21.0" fill="#4f8f4f" opacity="0.75"/>
<rect x="1299.4" y="1704.4" width="1.3" height="21.0" fill="#4f8f4f" opacity="0.75"/>
<rect x="1304.5" y="1704.4" width="1.3" height="21.0" fill="#4f8f4f" opacity="0.75"/>
<rect x="1312.9" y="1704.4" width="1.3" height="21.0" fill="#4f8f4f" opacity="0.75"/>
<rect x="1315.5" y="1704.4" width="1.3" height="21.0" fill="#4f8f4f" opacity="0.75"/>
<rect x="1324.8" y="1704.4" width="1.3" height="21.0" fill="#4f8f4f" opacity="0.75"/>
<rect x="1329.0" y="1704.4" width="1.3" height="21.0" fill="#4f8f4f" opacity="0.75"/>
<rect x="1332.4" y="1704.4" width="1.3" height="21.0" fill="#4f8f4f" opacity="0.75"/>
<rect x="1159.9" y="1704.4" width="0.9" height="21.0" fill="#8fa3d6" opacity="0.45"/>
<rect x="1360.1" y="1704.4" width="11.0" height="21.0" fill="#2d4aa0"/>
<rect x="1424.6" y="161.0" width="31.6" height="33.8" rx="4" fill="#2f4a9e"/>
<rect x="1424.6" y="206.6" width="31.6" height="34.3" rx="4" fill="#437a40"/>
<rect x="1158.0" y="1781.5" width="584.4" height="6.8" fill="#231f20"/>
<rect x="1158.0" y="1770.7" width="6.7" height="14" fill="#231f20"/>
<rect x="1228.4" y="1770.7" width="6.7" height="14" fill="#231f20"/>
<rect x="1299.4" y="1770.7" width="6.7" height="14" fill="#231f20"/>
<rect x="1369.8" y="1770.7" width="6.7" height="14" fill="#231f20"/>
<rect x="1440.5" y="1770.7" width="6.7" height="14" fill="#231f20"/>
<rect x="1511.4" y="1770.7" width="6.7" height="14" fill="#231f20"/>
<rect x="1581.9" y="1770.7" width="6.7" height="14" fill="#231f20"/>
<rect x="1652.4" y="1770.7" width="6.7" height="14" fill="#231f20"/>
<rect x="1723.1" y="1770.7" width="6.7" height="14" fill="#231f20"/>
<text transform="translate(12.00 35.30)" font-family="'Liberation Serif', 'Times New Roman', serif" font-size="45.3" font-weight="bold" fill="#231f20" textLength="177.00" lengthAdjust="spacingAndGlyphs">Subfamily</text>
<text transform="translate(231.90 31.70) scale(1.0402 1)" font-family="'Liberation Sans', Arial, sans-serif" font-size="38.5" font-weight="bold" fill="#231f20">A</text>
<text transform="translate(298.00 33.90)" font-family="'Liberation Serif', 'Times New Roman', serif" font-size="45.3" font-weight="bold" fill="#231f20" textLength="189.00" lengthAdjust="spacingAndGlyphs">Expression</text>
<text transform="translate(536.10 31.60) scale(0.9734 1)" font-family="'Liberation Sans', Arial, sans-serif" font-size="38.5" font-weight="bold" fill="#231f20">B</text>
<text transform="translate(595.00 32.30)" font-family="'Liberation Serif', 'Times New Roman', serif" font-size="45.3" font-weight="bold" fill="#231f20" textLength="302.00" lengthAdjust="spacingAndGlyphs">Protein Structure</text>
<text transform="translate(1086.32 32.30) scale(0.9355 1)" font-family="'Liberation Sans', Arial, sans-serif" font-size="38.5" font-weight="bold" fill="#231f20">C</text>
<text transform="translate(1147.00 32.30)" font-family="'Liberation Serif', 'Times New Roman', serif" font-size="45.3" font-weight="bold" fill="#231f20" textLength="267.00" lengthAdjust="spacingAndGlyphs">Gene Structrue</text>
<text transform="translate(35.50 225.00) rotate(90)" font-family="'Liberation Serif', 'Times New Roman', serif" font-size="38.5" fill="#231f20" textLength="94.50" lengthAdjust="spacingAndGlyphs">ACSS</text>
<text transform="translate(34.80 718.50) rotate(90)" font-family="'Liberation Serif', 'Times New Roman', serif" font-size="38.0" fill="#231f20" textLength="102.00" lengthAdjust="spacingAndGlyphs">ACSM</text>
<text transform="translate(39.60 1339.30) rotate(90)" font-family="'Liberation Serif', 'Times New Roman', serif" font-size="38.0" fill="#231f20" textLength="85.70" lengthAdjust="spacingAndGlyphs">ACSL</text>
<text transform="translate(329.80 1728.00) rotate(90) scale(0.92 1)" font-family="'Liberation Serif', 'Times New Roman', serif" font-size="29.6" font-weight="bold" fill="#231f20" textLength="175.00" lengthAdjust="spacing" stroke="#231f20" stroke-width="0.45">Non-lactation</text>
<text transform="translate(391.70 1729.00) rotate(90) scale(0.92 1)" font-family="'Liberation Serif', 'Times New Roman', serif" font-size="29.6" font-weight="bold" fill="#231f20" textLength="123.91" lengthAdjust="spacing" stroke="#231f20" stroke-width="0.45">Lactation</text>
<text transform="translate(474.74 86.80) scale(0.9994 1)" font-family="'Liberation Serif', 'Times New Roman', serif" font-size="28.5" fill="#0d0b0b">0</text>
<text transform="translate(475.50 115.20) scale(0.86 1)" font-family="'Liberation Serif', 'Times New Roman', serif" font-size="28.5" fill="#0d0b0b" textLength="29.07" lengthAdjust="spacing">16</text>
<text transform="translate(474.50 142.90) scale(0.86 1)" font-family="'Liberation Serif', 'Times New Roman', serif" font-size="28.5" fill="#0d0b0b" textLength="29.65" lengthAdjust="spacing">32</text>
<text transform="translate(475.50 170.50) scale(0.86 1)" font-family="'Liberation Serif', 'Times New Roman', serif" font-size="28.5" fill="#0d0b0b" textLength="27.33" lengthAdjust="spacing">48</text>
<text transform="translate(475.50 198.30) scale(0.86 1)" font-family="'Liberation Serif', 'Times New Roman', serif" font-size="28.5" fill="#0d0b0b" textLength="27.91" lengthAdjust="spacing">64</text>
<text transform="translate(936.50 596.40)" font-family="'Liberation Serif', 'Times New Roman', serif" font-size="29.6" font-weight="bold" fill="#0d0b0b" textLength="146.00" lengthAdjust="spacingAndGlyphs">AMP-binding</text>
<text transform="translate(936.50 641.80)" font-family="'Liberation Serif', 'Times New Roman', serif" font-size="29.6" font-weight="bold" fill="#0d0b0b" textLength="181.00" lengthAdjust="spacingAndGlyphs">AMP-binding_C</text>
<text transform="translate(936.50 687.70)" font-family="'Liberation Serif', 'Times New Roman', serif" font-size="29.6" font-weight="bold" fill="#0d0b0b" textLength="103.00" lengthAdjust="spacingAndGlyphs">ACAS_N</text>
<text transform="translate(1466.50 184.00)" font-family="'Liberation Serif', 'Times New Roman', serif" font-size="29.0" font-weight="bold" fill="#0d0b0b" textLength="54.00" lengthAdjust="spacingAndGlyphs">UTR</text>
<text transform="translate(1466.50 229.80)" font-family="'Liberation Serif', 'Times New Roman', serif" font-size="29.0" font-weight="bold" fill="#0d0b0b" textLength="52.50" lengthAdjust="spacingAndGlyphs">CDS</text>
<text transform="translate(510.82 1812.00) scale(1.0229 1)" font-family="'Liberation Serif', 'Times New Roman', serif" font-size="29.5" fill="#231f20">0</text>
<text transform="translate(600.50 1812.00) scale(0.74 1)" font-family="'Liberation Serif', 'Times New Roman', serif" font-size="29.5" fill="#231f20" textLength="46.62" lengthAdjust="spacing">200</text>
<text transform="translate(705.00 1812.00) scale(0.74 1)" font-family="'Liberation Serif', 'Times New Roman', serif" font-size="29.5" fill="#231f20" textLength="45.27" lengthAdjust="spacing">400</text>
<text transform="translate(808.50 1812.00) scale(0.74 1)" font-family="'Liberation Serif', 'Times New Roman', serif" font-size="29.5" fill="#231f20" textLength="45.95" lengthAdjust="spacing">600</text>
<text transform="translate(910.50 1812.00) scale(0.74 1)" font-family="'Liberation Serif', 'Times New Roman', serif" font-size="29.5" fill="#231f20" textLength="45.27" lengthAdjust="spacing">800</text>
<text transform="translate(1005.00 1812.00) scale(0.74 1)" font-family="'Liberation Serif', 'Times New Roman', serif" font-size="29.5" fill="#231f20" textLength="60.81" lengthAdjust="spacing">1000</text>
<text transform="translate(1056.50 1812.00) scale(0.95 1)" font-family="'Liberation Serif', 'Times New Roman', serif" font-size="29.5" fill="#231f20" textLength="68.42" lengthAdjust="spacing">(AA)</text>
<text transform="translate(489.14 1790.70) scale(0.7394 1)" font-family="'Liberation Serif', 'Times New Roman', serif" font-size="44.5" fill="#231f20">5</text>
<text transform="translate(501.58 1788.00) scale(0.8192 1)" font-family="'Liberation Serif', 'Times New Roman', serif" font-size="42.5" font-style="italic" fill="#231f20">&#8242;</text>
<text transform="translate(1090.82 1791.60) scale(0.6943 1)" font-family="'Liberation Serif', 'Times New Roman', serif" font-size="44.5" fill="#231f20">3</text>
<text transform="translate(1104.08 1788.90) scale(0.8645 1)" font-family="'Liberation Serif', 'Times New Roman', serif" font-size="42.5" font-style="italic" fill="#231f20">&#8242;</text>
<text transform="translate(1143.00 1816.30) scale(0.76 1)" font-family="'Liberation Serif', 'Times New Roman', serif" font-size="28.8" fill="#231f20" textLength="44.74" lengthAdjust="spacing">0kb</text>
<text transform="translate(1207.50 1816.30) scale(0.76 1)" font-family="'Liberation Serif', 'Times New Roman', serif" font-size="28.8" fill="#231f20" textLength="59.87" lengthAdjust="spacing">20kb</text>
<text transform="translate(1281.00 1816.30) scale(0.76 1)" font-family="'Liberation Serif', 'Times New Roman', serif" font-size="28.8" fill="#231f20" textLength="59.87" lengthAdjust="spacing">40kb</text>
<text transform="translate(1351.00 1816.30) scale(0.76 1)" font-family="'Liberation Serif', 'Times New Roman', serif" font-size="28.8" fill="#231f20" textLength="59.21" lengthAdjust="spacing">80kb</text>
<text transform="translate(1416.00 1816.30) scale(0.76 1)" font-family="'Liberation Serif', 'Times New Roman', serif" font-size="28.8" fill="#231f20" textLength="75.00" lengthAdjust="spacing">100kb</text>
<text transform="translate(1488.50 1816.30) scale(0.76 1)" font-family="'Liberation Serif', 'Times New Roman', serif" font-size="28.8" fill="#231f20" textLength="74.34" lengthAdjust="spacing">120kb</text>
<text transform="translate(1560.00 1816.30) scale(0.76 1)" font-family="'Liberation Serif', 'Times New Roman', serif" font-size="28.8" fill="#231f20" textLength="74.34" lengthAdjust="spacing">140kb</text>
<text transform="translate(1631.50 1816.30) scale(0.76 1)" font-family="'Liberation Serif', 'Times New Roman', serif" font-size="28.8" fill="#231f20" textLength="74.34" lengthAdjust="spacing">160kb</text>
<text transform="translate(1703.50 1816.30) scale(0.76 1)" font-family="'Liberation Serif', 'Times New Roman', serif" font-size="28.8" fill="#231f20" textLength="72.37" lengthAdjust="spacing">180kb</text>
<text transform="translate(1128.56 1793.00) scale(0.7612 1)" font-family="'Liberation Serif', 'Times New Roman', serif" font-size="42.5" fill="#231f20">5</text>
<text transform="translate(1142.66 1790.20) scale(0.9363 1)" font-family="'Liberation Serif', 'Times New Roman', serif" font-size="41.0" font-style="italic" fill="#231f20">&#8242;</text>
<text transform="translate(1747.62 1795.00) scale(0.7097 1)" font-family="'Liberation Serif', 'Times New Roman', serif" font-size="42.5" fill="#231f20">3</text>
<text transform="translate(1760.62 1792.20) scale(0.8086 1)" font-family="'Liberation Serif', 'Times New Roman', serif" font-size="41.0" font-style="italic" fill="#231f20">&#8242;</text>
<text transform="translate(177.50 118.80) scale(0.66 1)" font-family="'Liberation Serif', 'Times New Roman', serif" font-size="31.8" fill="#0d0b0b" textLength="137.12" lengthAdjust="spacing" word-spacing="2.2" stroke="#0d0b0b" stroke-width="0.25">Bt ACSS1</text>
<text transform="translate(177.50 160.90) scale(0.66 1)" font-family="'Liberation Serif', 'Times New Roman', serif" font-size="31.8" fill="#0d0b0b" textLength="146.97" lengthAdjust="spacing" word-spacing="2.0" stroke="#0d0b0b" stroke-width="0.25">Ch ACSS1</text>
<text transform="translate(177.50 203.40) scale(0.66 1)" font-family="'Liberation Serif', 'Times New Roman', serif" font-size="31.8" fill="#0d0b0b" textLength="148.48" lengthAdjust="spacing" word-spacing="3.6" stroke="#0d0b0b" stroke-width="0.25">Oa ACSS1</text>
<text transform="translate(177.50 245.70) scale(0.66 1)" font-family="'Liberation Serif', 'Times New Roman', serif" font-size="31.8" fill="#0d0b0b" textLength="137.88" lengthAdjust="spacing" word-spacing="2.2" stroke="#0d0b0b" stroke-width="0.25">Bt ACSS2</text>
<text transform="translate(177.50 287.90) scale(0.66 1)" font-family="'Liberation Serif', 'Times New Roman', serif" font-size="31.8" fill="#0d0b0b" textLength="149.24" lengthAdjust="spacing" word-spacing="2.0" stroke="#0d0b0b" stroke-width="0.25">Ch ACSS2</text>
<text transform="translate(177.50 330.60) scale(0.66 1)" font-family="'Liberation Serif', 'Times New Roman', serif" font-size="31.8" fill="#0d0b0b" textLength="150.00" lengthAdjust="spacing" word-spacing="3.6" stroke="#0d0b0b" stroke-width="0.25">Oa ACSS2</text>
<text transform="translate(177.50 372.90) scale(0.66 1)" font-family="'Liberation Serif', 'Times New Roman', serif" font-size="31.8" fill="#0d0b0b" textLength="137.12" lengthAdjust="spacing" word-spacing="2.2" stroke="#0d0b0b" stroke-width="0.25">Bt ACSS3</text>
<text transform="translate(177.50 415.40) scale(0.66 1)" font-family="'Liberation Serif', 'Times New Roman', serif" font-size="31.8" fill="#0d0b0b" textLength="147.73" lengthAdjust="spacing" word-spacing="2.0" stroke="#0d0b0b" stroke-width="0.25">Ch ACSS3</text>
<text transform="translate(177.50 457.80) scale(0.66 1)" font-family="'Liberation Serif', 'Times New Roman', serif" font-size="31.8" fill="#0d0b0b" textLength="148.48" lengthAdjust="spacing" word-spacing="3.6" stroke="#0d0b0b" stroke-width="0.25">Oa ACSS3</text>
<text transform="translate(184.00 495.40) scale(0.66 1)" font-family="'Liberation Serif', 'Times New Roman', serif" font-size="31.8" fill="#0d0b0b" textLength="141.67" lengthAdjust="spacing" word-spacing="2.2" stroke="#0d0b0b" stroke-width="0.25">Bt ACSM1</text>
<text transform="translate(184.00 537.60) scale(0.66 1)" font-family="'Liberation Serif', 'Times New Roman', serif" font-size="31.8" fill="#0d0b0b" textLength="151.52" lengthAdjust="spacing" word-spacing="2.0" stroke="#0d0b0b" stroke-width="0.25">Ch ACSM1</text>
<text transform="translate(184.00 580.10) scale(0.66 1)" font-family="'Liberation Serif', 'Times New Roman', serif" font-size="31.8" fill="#0d0b0b" textLength="153.03" lengthAdjust="spacing" word-spacing="3.6" stroke="#0d0b0b" stroke-width="0.25">Oa ACSM1</text>
<text transform="translate(184.00 622.70) scale(0.66 1)" font-family="'Liberation Serif', 'Times New Roman', serif" font-size="31.8" fill="#0d0b0b" textLength="165.91" lengthAdjust="spacing" word-spacing="2.2" stroke="#0d0b0b" stroke-width="0.25">Bt ACSM2B</text>
<text transform="translate(184.00 664.60) scale(0.66 1)" font-family="'Liberation Serif', 'Times New Roman', serif" font-size="31.8" fill="#0d0b0b" textLength="176.52" lengthAdjust="spacing" word-spacing="2.0" stroke="#0d0b0b" stroke-width="0.25">Ch ACSM2B</text>
<text transform="translate(184.00 707.30) scale(0.66 1)" font-family="'Liberation Serif', 'Times New Roman', serif" font-size="31.8" fill="#0d0b0b" textLength="177.27" lengthAdjust="spacing" word-spacing="3.6" stroke="#0d0b0b" stroke-width="0.25">Oa ACSM2B</text>
<text transform="translate(184.00 749.60) scale(0.66 1)" font-family="'Liberation Serif', 'Times New Roman', serif" font-size="31.8" fill="#0d0b0b" textLength="141.67" lengthAdjust="spacing" word-spacing="2.2" stroke="#0d0b0b" stroke-width="0.25">Bt ACSM3</text>
<text transform="translate(184.00 792.10) scale(0.66 1)" font-family="'Liberation Serif', 'Times New Roman', serif" font-size="31.8" fill="#0d0b0b" textLength="152.27" lengthAdjust="spacing" word-spacing="2.0" stroke="#0d0b0b" stroke-width="0.25">Ch ACSM3</text>
<text transform="translate(184.00 834.40) scale(0.66 1)" font-family="'Liberation Serif', 'Times New Roman', serif" font-size="31.8" fill="#0d0b0b" textLength="153.03" lengthAdjust="spacing" word-spacing="3.6" stroke="#0d0b0b" stroke-width="0.25">Oa ACSM3</text>
<text transform="translate(184.00 877.40) scale(0.66 1)" font-family="'Liberation Serif', 'Times New Roman', serif" font-size="31.8" fill="#0d0b0b" textLength="143.18" lengthAdjust="spacing" word-spacing="2.2" stroke="#0d0b0b" stroke-width="0.25">Bt ACSM5</text>
<text transform="translate(184.00 919.60) scale(0.66 1)" font-family="'Liberation Serif', 'Times New Roman', serif" font-size="31.8" fill="#0d0b0b" textLength="153.03" lengthAdjust="spacing" word-spacing="2.0" stroke="#0d0b0b" stroke-width="0.25">Ch ACSM5</text>
<text transform="translate(184.00 961.90) scale(0.66 1)" font-family="'Liberation Serif', 'Times New Roman', serif" font-size="31.8" fill="#0d0b0b" textLength="154.55" lengthAdjust="spacing" word-spacing="3.6" stroke="#0d0b0b" stroke-width="0.25">Oa ACSM5</text>
<text transform="translate(184.00 1004.90) scale(0.66 1)" font-family="'Liberation Serif', 'Times New Roman', serif" font-size="31.8" fill="#0d0b0b" textLength="142.42" lengthAdjust="spacing" word-spacing="2.2" stroke="#0d0b0b" stroke-width="0.25">Bt ACSM4</text>
<text transform="translate(184.00 1047.10) scale(0.66 1)" font-family="'Liberation Serif', 'Times New Roman', serif" font-size="31.8" fill="#0d0b0b" textLength="153.03" lengthAdjust="spacing" word-spacing="2.0" stroke="#0d0b0b" stroke-width="0.25">Ch ACSM4</text>
<text transform="translate(184.00 1089.40) scale(0.66 1)" font-family="'Liberation Serif', 'Times New Roman', serif" font-size="31.8" fill="#0d0b0b" textLength="153.79" lengthAdjust="spacing" word-spacing="3.6" stroke="#0d0b0b" stroke-width="0.25">Oa ACSM4</text>
<text transform="translate(184.00 1128.40) scale(0.66 1)" font-family="'Liberation Serif', 'Times New Roman', serif" font-size="31.8" fill="#0d0b0b" textLength="145.45" lengthAdjust="spacing" word-spacing="2.0" stroke="#0d0b0b" stroke-width="0.25">Ch ACSL1</text>
<text transform="translate(185.50 1169.00) scale(0.66 1)" font-family="'Liberation Serif', 'Times New Roman', serif" font-size="31.8" fill="#0d0b0b" textLength="138.64" lengthAdjust="spacing" word-spacing="2.2" stroke="#0d0b0b" stroke-width="0.25">Bt ACSL1</text>
<text transform="translate(185.50 1211.60) scale(0.66 1)" font-family="'Liberation Serif', 'Times New Roman', serif" font-size="31.8" fill="#0d0b0b" textLength="152.27" lengthAdjust="spacing" word-spacing="3.6" stroke="#0d0b0b" stroke-width="0.25">Oa ACSL1</text>
<text transform="translate(185.50 1253.90) scale(0.66 1)" font-family="'Liberation Serif', 'Times New Roman', serif" font-size="31.8" fill="#0d0b0b" textLength="138.64" lengthAdjust="spacing" word-spacing="2.2" stroke="#0d0b0b" stroke-width="0.25">Bt ACSL3</text>
<text transform="translate(185.50 1296.90) scale(0.66 1)" font-family="'Liberation Serif', 'Times New Roman', serif" font-size="31.8" fill="#0d0b0b" textLength="150.00" lengthAdjust="spacing" word-spacing="2.0" stroke="#0d0b0b" stroke-width="0.25">Ch ACSL3</text>
<text transform="translate(185.50 1339.10) scale(0.66 1)" font-family="'Liberation Serif', 'Times New Roman', serif" font-size="31.8" fill="#0d0b0b" textLength="152.27" lengthAdjust="spacing" word-spacing="3.6" stroke="#0d0b0b" stroke-width="0.25">Oa ACSL3</text>
<text transform="translate(185.50 1381.70) scale(0.66 1)" font-family="'Liberation Serif', 'Times New Roman', serif" font-size="31.8" fill="#0d0b0b" textLength="139.39" lengthAdjust="spacing" word-spacing="2.2" stroke="#0d0b0b" stroke-width="0.25">Bt ACSL4</text>
<text transform="translate(185.50 1424.00) scale(0.66 1)" font-family="'Liberation Serif', 'Times New Roman', serif" font-size="31.8" fill="#0d0b0b" textLength="150.76" lengthAdjust="spacing" word-spacing="2.0" stroke="#0d0b0b" stroke-width="0.25">Ch ACSL4</text>
<text transform="translate(185.50 1466.30) scale(0.66 1)" font-family="'Liberation Serif', 'Times New Roman', serif" font-size="31.8" fill="#0d0b0b" textLength="151.52" lengthAdjust="spacing" word-spacing="3.6" stroke="#0d0b0b" stroke-width="0.25">Oa ACSL4</text>
<text transform="translate(185.50 1508.50) scale(0.66 1)" font-family="'Liberation Serif', 'Times New Roman', serif" font-size="31.8" fill="#0d0b0b" textLength="140.15" lengthAdjust="spacing" word-spacing="2.2" stroke="#0d0b0b" stroke-width="0.25">Bt ACSL5</text>
<text transform="translate(185.50 1551.50) scale(0.66 1)" font-family="'Liberation Serif', 'Times New Roman', serif" font-size="31.8" fill="#0d0b0b" textLength="150.00" lengthAdjust="spacing" word-spacing="2.0" stroke="#0d0b0b" stroke-width="0.25">Ch ACSL5</text>
<text transform="translate(185.50 1593.80) scale(0.66 1)" font-family="'Liberation Serif', 'Times New Roman', serif" font-size="31.8" fill="#0d0b0b" textLength="152.27" lengthAdjust="spacing" word-spacing="3.6" stroke="#0d0b0b" stroke-width="0.25">Oa ACSL5</text>
<text transform="translate(185.50 1635.80) scale(0.66 1)" font-family="'Liberation Serif', 'Times New Roman', serif" font-size="31.8" fill="#0d0b0b" textLength="140.15" lengthAdjust="spacing" word-spacing="2.2" stroke="#0d0b0b" stroke-width="0.25">Bt ACSL6</text>
<text transform="translate(185.50 1678.20) scale(0.66 1)" font-family="'Liberation Serif', 'Times New Roman', serif" font-size="31.8" fill="#0d0b0b" textLength="151.52" lengthAdjust="spacing" word-spacing="2.0" stroke="#0d0b0b" stroke-width="0.25">Ch ACSL6</text>
<text transform="translate(185.50 1720.40) scale(0.66 1)" font-family="'Liberation Serif', 'Times New Roman', serif" font-size="31.8" fill="#0d0b0b" textLength="152.27" lengthAdjust="spacing" word-spacing="3.6" stroke="#0d0b0b" stroke-width="0.25">Oa ACSL6</text>
</svg>
</body></html>
